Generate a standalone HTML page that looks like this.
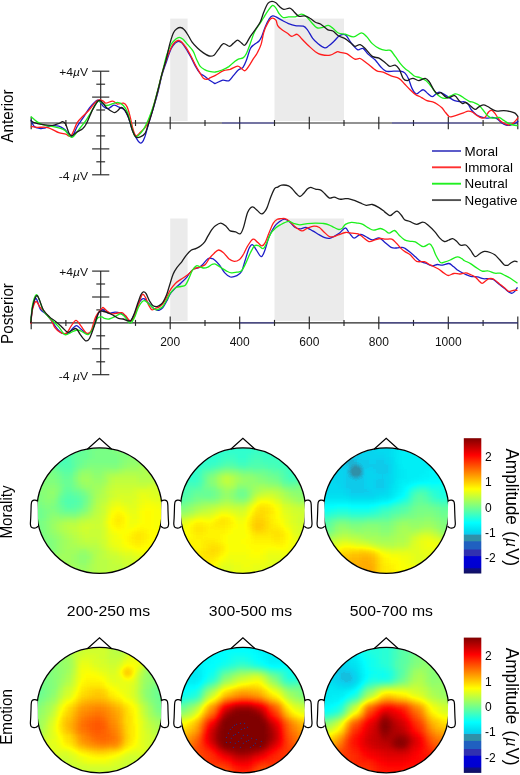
<!DOCTYPE html><html><head><meta charset="utf-8"><style>html,body{margin:0;padding:0;background:#fff;}svg{display:block;will-change:transform;font-family:"Liberation Sans",sans-serif;}</style></head><body>
<svg width="520" height="775" viewBox="0 0 520 775">
<defs><filter id="jet" x="-10%" y="-10%" width="120%" height="120%" color-interpolation-filters="sRGB">
<feGaussianBlur stdDeviation="2.2"/>
<feComponentTransfer>
<feFuncR type="table" tableValues="0.063 0.063 0.063 0.047 0.000 0.000 0.000 0.000 0.000 0.000 0.000 0.188 0.188 0.188 0.188 0.125 0.125 0.125 0.125 0.157 0.188 0.188 0.188 0.125 0.042 0.016 0.000 0.000 0.000 0.000 0.000 0.050 0.100 0.150 0.200 0.250 0.300 0.350 0.400 0.450 0.500 0.550 0.600 0.650 0.700 0.750 0.800 0.850 0.900 0.950 1.000 1.000 1.000 1.000 1.000 1.000 1.000 1.000 1.000 1.000 1.000 1.000 1.000 1.000 1.000 1.000 1.000 1.000 1.000 1.000 1.000 0.950 0.900 0.851 0.801 0.751 0.701 0.651 0.602 0.552 0.502"/>
<feFuncG type="table" tableValues="0.063 0.063 0.063 0.047 0.000 0.000 0.000 0.000 0.000 0.000 0.000 0.188 0.188 0.188 0.188 0.376 0.376 0.376 0.376 0.471 0.565 0.565 0.565 0.675 0.816 0.855 0.889 0.917 0.945 0.972 1.000 1.000 1.000 1.000 1.000 1.000 1.000 1.000 1.000 1.000 1.000 1.000 1.000 1.000 1.000 1.000 1.000 1.000 1.000 1.000 1.000 0.950 0.900 0.850 0.800 0.750 0.700 0.650 0.600 0.550 0.500 0.450 0.400 0.350 0.300 0.250 0.200 0.150 0.100 0.050 0.000 0.000 0.000 0.000 0.000 0.000 0.000 0.000 0.000 0.000 0.000"/>
<feFuncB type="table" tableValues="0.376 0.421 0.466 0.580 0.818 0.823 0.827 0.832 0.837 0.842 0.847 0.690 0.690 0.690 0.690 0.753 0.753 0.753 0.753 0.706 0.659 0.659 0.659 0.800 0.941 0.941 0.947 0.960 0.973 0.987 1.000 0.950 0.900 0.850 0.800 0.750 0.700 0.650 0.600 0.550 0.500 0.450 0.400 0.350 0.300 0.250 0.200 0.150 0.100 0.050 0.000 0.000 0.000 0.000 0.000 0.000 0.000 0.000 0.000 0.000 0.000 0.000 0.000 0.000 0.000 0.000 0.000 0.000 0.000 0.000 0.000 0.000 0.000 0.000 0.000 0.000 0.000 0.000 0.000 0.000 0.000"/>
</feComponentTransfer></filter><linearGradient id="cbar" x1="0" y1="0" x2="0" y2="1"><stop offset="0.000" stop-color="#800000"/><stop offset="0.125" stop-color="#ff0000"/><stop offset="0.375" stop-color="#ffff00"/><stop offset="0.625" stop-color="#00ffff"/><stop offset="0.680" stop-color="#00e0f0"/><stop offset="0.710" stop-color="#10c8f0"/><stop offset="0.715" stop-color="#3090a8"/><stop offset="0.760" stop-color="#3090a8"/><stop offset="0.765" stop-color="#2060c0"/><stop offset="0.820" stop-color="#2060c0"/><stop offset="0.825" stop-color="#3030b0"/><stop offset="0.870" stop-color="#3030b0"/><stop offset="0.875" stop-color="#0000d8"/><stop offset="0.955" stop-color="#0000d0"/><stop offset="0.965" stop-color="#101080"/><stop offset="1.000" stop-color="#101060"/></linearGradient><clipPath id="c00"><circle cx="99.5" cy="510.6" r="62.7"/></clipPath><clipPath id="c01"><circle cx="242.9" cy="510.6" r="62.7"/></clipPath><clipPath id="c02"><circle cx="386.2" cy="510.6" r="62.7"/></clipPath><radialGradient id="b1"><stop offset="0" stop-color="#404040" stop-opacity="0.85"/><stop offset="0.3" stop-color="#404040" stop-opacity="0.72"/><stop offset="0.6" stop-color="#404040" stop-opacity="0.38"/><stop offset="1" stop-color="#404040" stop-opacity="0"/></radialGradient><clipPath id="c10"><circle cx="99.5" cy="710.1" r="62.7"/></clipPath><radialGradient id="b2"><stop offset="0" stop-color="#b1b1b1" stop-opacity="0.85"/><stop offset="0.3" stop-color="#b1b1b1" stop-opacity="0.72"/><stop offset="0.6" stop-color="#b1b1b1" stop-opacity="0.38"/><stop offset="1" stop-color="#b1b1b1" stop-opacity="0"/></radialGradient><clipPath id="c11"><circle cx="242.9" cy="710.1" r="62.7"/></clipPath><clipPath id="c12"><circle cx="386.2" cy="710.1" r="62.7"/></clipPath><radialGradient id="b3"><stop offset="0" stop-color="#4a4a4a" stop-opacity="0.85"/><stop offset="0.3" stop-color="#4a4a4a" stop-opacity="0.72"/><stop offset="0.6" stop-color="#4a4a4a" stop-opacity="0.38"/><stop offset="1" stop-color="#4a4a4a" stop-opacity="0"/></radialGradient><radialGradient id="b4"><stop offset="0" stop-color="#ffffff" stop-opacity="0.90"/><stop offset="0.3" stop-color="#ffffff" stop-opacity="0.77"/><stop offset="0.6" stop-color="#ffffff" stop-opacity="0.41"/><stop offset="1" stop-color="#ffffff" stop-opacity="0"/></radialGradient><radialGradient id="b5"><stop offset="0" stop-color="#ffffff" stop-opacity="0.90"/><stop offset="0.3" stop-color="#ffffff" stop-opacity="0.77"/><stop offset="0.6" stop-color="#ffffff" stop-opacity="0.41"/><stop offset="1" stop-color="#ffffff" stop-opacity="0"/></radialGradient></defs>
<rect x="170.2" y="18.6" width="17.4" height="102.4" fill="#ebebeb"/>
<rect x="274.5" y="18.6" width="69.5" height="102.4" fill="#ebebeb"/>
<g stroke="#262626" stroke-width="1.15" fill="none">
<line x1="31.2" y1="123.0" x2="517.8" y2="123.0"/>
<line x1="31.2" y1="116.7" x2="31.2" y2="129.3"/>
<line x1="65.9" y1="120.0" x2="65.9" y2="126.0"/>
<line x1="135.5" y1="120.0" x2="135.5" y2="126.0"/>
<line x1="170.2" y1="116.7" x2="170.2" y2="129.3"/>
<line x1="205.0" y1="120.0" x2="205.0" y2="126.0"/>
<line x1="239.7" y1="116.7" x2="239.7" y2="129.3"/>
<line x1="274.5" y1="120.0" x2="274.5" y2="126.0"/>
<line x1="309.3" y1="116.7" x2="309.3" y2="129.3"/>
<line x1="344.0" y1="120.0" x2="344.0" y2="126.0"/>
<line x1="378.8" y1="116.7" x2="378.8" y2="129.3"/>
<line x1="413.5" y1="120.0" x2="413.5" y2="126.0"/>
<line x1="448.3" y1="116.7" x2="448.3" y2="129.3"/>
<line x1="483.1" y1="120.0" x2="483.1" y2="126.0"/>
<line x1="517.8" y1="116.7" x2="517.8" y2="129.3"/>
<line x1="100.7" y1="71.2" x2="100.7" y2="174.8"/>
<line x1="92.1" y1="174.8" x2="109.3" y2="174.8"/>
<line x1="96.3" y1="161.8" x2="105.1" y2="161.8"/>
<line x1="92.1" y1="148.9" x2="109.3" y2="148.9"/>
<line x1="96.3" y1="135.9" x2="105.1" y2="135.9"/>
<line x1="96.3" y1="110.0" x2="105.1" y2="110.0"/>
<line x1="92.1" y1="97.1" x2="109.3" y2="97.1"/>
<line x1="96.3" y1="84.2" x2="105.1" y2="84.2"/>
<line x1="92.1" y1="71.2" x2="109.3" y2="71.2"/>
</g>
<text transform="translate(88,75.7) scale(1.1,1)" font-size="11" text-anchor="end" fill="#111">+4<tspan font-style="italic">µ</tspan>V</text>
<text transform="translate(88,179.8) scale(1.1,1)" font-size="11" text-anchor="end" fill="#111">-4<tspan font-style="italic"> µ</tspan>V</text>
<rect x="170.2" y="218.5" width="17.4" height="102.4" fill="#ebebeb"/>
<rect x="274.5" y="218.5" width="69.5" height="102.4" fill="#ebebeb"/>
<g stroke="#262626" stroke-width="1.15" fill="none">
<line x1="31.2" y1="322.9" x2="517.8" y2="322.9"/>
<line x1="31.2" y1="316.6" x2="31.2" y2="329.2"/>
<line x1="65.9" y1="319.9" x2="65.9" y2="325.9"/>
<line x1="135.5" y1="319.9" x2="135.5" y2="325.9"/>
<line x1="170.2" y1="316.6" x2="170.2" y2="329.2"/>
<line x1="205.0" y1="319.9" x2="205.0" y2="325.9"/>
<line x1="239.7" y1="316.6" x2="239.7" y2="329.2"/>
<line x1="274.5" y1="319.9" x2="274.5" y2="325.9"/>
<line x1="309.3" y1="316.6" x2="309.3" y2="329.2"/>
<line x1="344.0" y1="319.9" x2="344.0" y2="325.9"/>
<line x1="378.8" y1="316.6" x2="378.8" y2="329.2"/>
<line x1="413.5" y1="319.9" x2="413.5" y2="325.9"/>
<line x1="448.3" y1="316.6" x2="448.3" y2="329.2"/>
<line x1="483.1" y1="319.9" x2="483.1" y2="325.9"/>
<line x1="517.8" y1="316.6" x2="517.8" y2="329.2"/>
<line x1="100.7" y1="271.1" x2="100.7" y2="374.7"/>
<line x1="92.1" y1="374.7" x2="109.3" y2="374.7"/>
<line x1="96.3" y1="361.8" x2="105.1" y2="361.8"/>
<line x1="92.1" y1="348.8" x2="109.3" y2="348.8"/>
<line x1="96.3" y1="335.8" x2="105.1" y2="335.8"/>
<line x1="96.3" y1="309.9" x2="105.1" y2="309.9"/>
<line x1="92.1" y1="297.0" x2="109.3" y2="297.0"/>
<line x1="96.3" y1="284.0" x2="105.1" y2="284.0"/>
<line x1="92.1" y1="271.1" x2="109.3" y2="271.1"/>
</g>
<text transform="translate(88,275.6) scale(1.1,1)" font-size="11" text-anchor="end" fill="#111">+4<tspan font-style="italic">µ</tspan>V</text>
<text transform="translate(88,379.7) scale(1.1,1)" font-size="11" text-anchor="end" fill="#111">-4<tspan font-style="italic"> µ</tspan>V</text>
<line x1="222.0" y1="123.0" x2="274.0" y2="123.0" stroke="#2a2ad0" stroke-opacity="0.55" stroke-width="1"/>
<line x1="392.0" y1="123.0" x2="482.0" y2="123.0" stroke="#2a2ad0" stroke-opacity="0.55" stroke-width="1"/>
<line x1="240.0" y1="322.9" x2="274.0" y2="322.9" stroke="#2a2ad0" stroke-opacity="0.55" stroke-width="1"/>
<line x1="380.0" y1="322.9" x2="518.0" y2="322.9" stroke="#2a2ad0" stroke-opacity="0.55" stroke-width="1"/>
<text x="170.2" y="345.6" font-size="12" text-anchor="middle" fill="#111">200</text>
<text x="239.7" y="345.6" font-size="12" text-anchor="middle" fill="#111">400</text>
<text x="309.3" y="345.6" font-size="12" text-anchor="middle" fill="#111">600</text>
<text x="378.8" y="345.6" font-size="12" text-anchor="middle" fill="#111">800</text>
<text x="448.3" y="345.6" font-size="12" text-anchor="middle" fill="#111">1000</text>
<path d="M30.8,119.6C31.4,120.8 32.6,125.0 34.2,126.5C35.8,128.0 38.5,128.2 40.3,128.5C42.1,128.8 43.1,128.4 44.9,128.0C46.7,127.5 48.7,126.1 51.0,125.8C53.3,125.5 56.5,125.6 58.8,126.2C61.1,126.8 62.7,127.9 64.9,129.6C67.1,131.3 69.8,137.0 71.8,136.5C73.8,136.0 75.3,129.7 77.2,126.5C79.1,123.3 81.4,120.4 83.4,117.3C85.5,114.2 87.5,110.7 89.5,108.0C91.5,105.3 94.2,102.5 95.7,101.2C97.2,99.9 97.5,99.5 98.8,100.4C100.1,101.3 101.9,105.1 103.4,106.5C105.0,107.9 106.4,108.8 108.1,108.6C109.8,108.4 112.1,105.5 113.8,105.2C115.5,104.9 117.2,106.4 118.5,106.9C119.8,107.4 120.2,107.4 121.3,108.0C122.3,108.6 123.5,108.7 124.8,110.4C126.0,112.1 127.6,115.1 128.8,118.4C130.1,121.7 131.0,126.5 132.3,130.0C133.7,133.5 135.5,137.0 136.9,139.2C138.3,141.4 139.7,143.4 140.9,143.2C142.2,143.0 143.2,141.3 144.4,138.1C145.7,134.9 147.0,129.0 148.4,124.2C149.8,119.4 151.4,114.4 153.0,109.2C154.6,104.0 156.2,98.7 157.7,93.1C159.2,87.5 160.4,80.7 161.9,75.4C163.4,70.1 165.0,65.9 166.5,61.5C168.0,57.1 169.7,51.9 171.1,48.8C172.5,45.7 173.9,44.4 175.2,43.1C176.4,41.9 177.4,41.3 178.6,41.3C179.8,41.3 180.8,41.9 182.1,43.1C183.3,44.4 184.6,46.5 186.1,48.8C187.6,51.1 189.2,54.0 190.8,56.9C192.4,59.8 193.9,63.4 195.4,66.1C196.9,68.8 198.5,71.4 200.0,73.1C201.5,74.8 203.1,75.1 204.6,76.3C206.1,77.5 207.7,78.9 209.2,80.0C210.7,81.1 212.8,82.3 213.8,82.9C214.8,83.5 213.9,83.9 215.4,83.4C216.9,82.9 220.6,80.5 222.8,80.1C225.0,79.7 227.0,81.6 228.8,80.8C230.6,80.0 232.0,77.2 233.6,75.4C235.2,73.6 236.7,71.3 238.3,70.0C239.9,68.7 241.7,68.9 243.0,67.3C244.3,65.7 245.1,63.7 246.3,60.6C247.5,57.5 249.1,51.2 250.4,48.5C251.8,45.8 252.9,45.6 254.4,44.4C255.9,43.1 257.9,42.4 259.1,41.0C260.3,39.6 260.8,38.6 261.8,36.3C262.8,33.9 264.0,29.8 265.2,26.9C266.4,24.0 268.0,20.6 269.2,18.8C270.4,17.0 271.5,16.2 272.6,15.9C273.7,15.6 274.4,16.1 275.9,16.8C277.4,17.5 279.6,19.1 281.7,20.2C283.8,21.3 286.2,22.7 288.5,23.6C290.8,24.5 292.7,25.2 295.2,25.6C297.7,26.0 301.3,25.5 303.3,26.2C305.3,26.9 305.7,27.6 307.3,29.6C308.9,31.6 310.9,36.0 312.7,38.4C314.5,40.8 316.1,42.1 318.1,43.7C320.1,45.3 323.0,47.4 324.8,47.8C326.6,48.1 327.2,46.9 328.8,45.8C330.4,44.7 332.4,42.7 334.2,41.0C336.0,39.3 337.7,36.7 339.6,35.7C341.5,34.7 343.5,33.8 345.4,34.9C347.3,36.0 348.8,39.8 350.8,42.3C352.8,44.8 355.5,48.7 357.5,49.7C359.5,50.7 361.1,47.6 362.9,48.4C364.7,49.2 366.3,52.5 368.3,54.4C370.3,56.3 373.0,57.8 375.0,59.8C377.0,61.8 378.6,64.6 380.4,66.5C382.2,68.4 383.6,70.4 385.8,71.2C388.0,72.0 391.3,71.2 393.8,71.2C396.3,71.2 398.7,70.9 400.6,71.2C402.5,71.5 403.7,71.8 405.0,73.1C406.3,74.4 407.4,76.3 408.5,78.8C409.6,81.3 410.6,85.6 411.9,88.1C413.1,90.6 414.6,93.2 416.0,93.8C417.4,94.4 418.8,92.2 420.0,91.5C421.2,90.8 422.1,89.4 423.5,89.8C424.9,90.2 426.7,92.6 428.1,93.8C429.5,95.0 430.8,96.7 432.1,96.7C433.4,96.7 434.9,94.6 436.1,93.8C437.4,93.0 438.2,92.0 439.6,92.1C441.0,92.2 442.7,93.5 444.2,94.4C445.7,95.3 447.1,96.2 448.8,97.3C450.5,98.3 452.7,100.0 454.6,100.7C456.5,101.5 458.7,101.6 460.4,101.8C462.1,102.0 463.3,101.5 464.6,101.9C465.9,102.3 467.0,102.9 468.1,104.2C469.2,105.5 470.2,108.3 471.5,110.0C472.8,111.7 474.6,113.4 476.1,114.6C477.7,115.8 479.1,116.3 480.8,116.9C482.5,117.5 484.6,118.0 486.5,118.1C488.4,118.2 490.6,117.4 492.3,117.5C494.0,117.6 495.4,117.7 496.9,118.6C498.4,119.5 500.0,121.6 501.5,122.7C503.0,123.8 504.6,124.6 506.1,125.0C507.6,125.4 509.1,125.3 510.7,125.0C512.2,124.7 514.1,124.0 515.4,123.3C516.6,122.6 517.7,121.4 518.2,121.0" fill="none" stroke="#1c1cc8" stroke-width="1.30" stroke-linejoin="round"/>
<path d="M30.8,126.5C31.9,126.6 34.6,127.2 37.2,127.3C39.8,127.4 43.9,126.9 46.5,127.3C49.1,127.7 50.6,128.7 52.6,129.6C54.6,130.5 56.6,131.9 58.8,132.7C61.0,133.5 63.7,133.7 65.7,134.2C67.8,134.7 69.2,137.7 71.1,135.8C73.0,133.9 75.2,126.0 77.2,122.7C79.2,119.4 81.4,118.0 83.4,115.8C85.5,113.6 87.5,111.9 89.5,109.6C91.5,107.3 94.0,103.5 95.7,101.9C97.4,100.3 98.2,100.1 99.5,100.0C100.8,99.9 102.4,100.7 103.4,101.2C104.5,101.7 104.2,103.2 105.8,103.2C107.3,103.2 110.8,101.0 112.7,101.1C114.6,101.2 115.5,103.7 117.3,104.0C119.1,104.3 122.0,102.7 123.6,103.2C125.2,103.7 126.0,104.8 127.1,106.9C128.2,109.1 129.0,112.4 130.0,116.1C131.0,119.8 131.9,125.5 132.9,128.8C133.9,132.1 134.6,135.1 135.8,135.7C137.1,136.3 138.9,133.6 140.4,132.3C141.9,131.0 143.7,129.4 145.0,127.7C146.3,126.0 147.1,125.2 148.4,121.9C149.7,118.6 151.5,113.0 153.0,108.0C154.5,103.0 156.0,97.6 157.5,92.0C159.0,86.4 160.4,79.7 161.9,74.2C163.4,68.7 165.0,63.6 166.5,59.2C168.0,54.8 169.8,50.5 171.1,47.7C172.4,44.9 173.4,43.7 174.6,42.5C175.8,41.3 176.9,40.6 178.1,40.5C179.2,40.4 180.2,40.7 181.5,41.9C182.8,43.1 184.5,45.4 186.1,47.7C187.7,50.0 189.2,52.9 190.8,55.8C192.4,58.7 193.9,62.1 195.4,65.0C196.9,67.9 198.7,70.9 200.0,73.1C201.3,75.3 202.2,77.2 203.4,78.2C204.6,79.2 205.7,79.5 206.9,79.4C208.1,79.3 209.0,78.4 210.4,77.7C211.8,77.0 213.2,76.6 215.4,75.4C217.6,74.2 221.0,71.7 223.5,70.7C226.0,69.7 227.8,70.0 230.2,69.3C232.5,68.5 235.7,66.3 237.6,66.2C239.5,66.1 240.4,67.8 241.6,68.6C242.8,69.3 243.8,71.2 245.0,70.7C246.2,70.2 247.7,67.8 249.0,65.9C250.3,64.0 251.8,61.3 253.1,59.2C254.4,57.1 255.8,55.7 257.1,53.2C258.4,50.7 260.0,47.9 261.1,44.4C262.2,40.9 262.7,35.9 263.8,32.3C264.9,28.7 266.5,25.2 267.9,22.9C269.2,20.5 270.6,18.6 271.9,18.2C273.2,17.8 274.9,19.0 275.9,20.2C276.9,21.4 276.7,24.0 277.7,25.6C278.7,27.2 280.1,28.4 281.7,29.6C283.3,30.8 285.4,31.9 287.1,33.0C288.8,34.1 290.1,36.1 291.8,36.3C293.5,36.5 295.5,33.8 297.2,34.3C298.9,34.8 300.0,37.1 301.9,39.0C303.8,40.9 306.4,43.7 308.6,45.8C310.9,47.9 313.4,50.3 315.4,51.8C317.4,53.2 318.3,53.9 320.8,54.5C323.3,55.1 327.5,55.7 330.2,55.2C332.9,54.8 335.3,52.3 336.9,51.8C338.5,51.3 338.4,52.1 340.0,52.4C341.6,52.7 344.2,52.6 346.7,53.7C349.2,54.8 352.6,58.3 354.8,59.1C357.1,59.9 358.2,57.8 360.2,58.5C362.2,59.2 364.2,61.2 366.9,63.2C369.6,65.2 373.6,69.1 376.3,70.6C379.0,72.1 380.6,71.3 383.1,72.2C385.6,73.1 388.4,74.8 391.1,75.9C393.8,77.0 396.9,77.2 399.2,78.6C401.4,79.9 402.9,82.2 404.6,84.0C406.3,85.8 407.8,87.5 409.6,89.2C411.4,90.9 413.5,93.1 415.4,94.4C417.3,95.8 419.2,96.2 421.1,97.3C423.0,98.3 425.0,99.9 426.9,100.7C428.8,101.5 431.0,101.3 432.7,101.9C434.4,102.5 435.8,103.2 437.3,104.2C438.8,105.2 440.5,106.4 441.9,107.7C443.2,109.0 444.2,110.9 445.4,112.3C446.5,113.7 447.9,115.5 448.8,116.3C449.8,117.1 449.8,117.1 451.1,116.9C452.5,116.7 454.8,115.9 456.9,115.2C459.0,114.5 461.6,113.6 463.5,112.9C465.4,112.2 466.6,111.2 468.1,111.1C469.6,111.0 471.2,111.5 472.7,112.3C474.2,113.1 475.8,114.8 477.3,115.8C478.8,116.8 480.5,117.9 481.9,118.1C483.2,118.3 484.2,118.0 485.4,116.9C486.5,115.8 487.6,112.8 488.8,111.7C490.0,110.7 491.1,110.1 492.3,110.6C493.5,111.1 494.7,113.1 495.8,114.6C496.9,116.1 497.9,118.3 499.2,119.8C500.5,121.2 502.3,122.4 503.8,123.3C505.3,124.2 506.8,125.0 508.4,125.0C509.9,125.0 511.5,124.5 513.1,123.3C514.7,122.0 517.4,118.5 518.2,117.5" fill="none" stroke="#ff1c1c" stroke-width="1.30" stroke-linejoin="round"/>
<path d="M30.8,116.5C31.9,117.4 35.1,120.5 37.2,121.9C39.3,123.3 41.1,124.3 43.4,125.0C45.7,125.7 48.4,125.7 51.0,126.2C53.6,126.7 56.5,127.1 58.8,127.8C61.1,128.5 62.7,128.8 64.9,130.4C67.1,132.0 69.5,137.4 71.8,137.3C74.1,137.2 76.3,132.6 78.8,129.6C81.2,126.6 84.2,122.9 86.5,119.6C88.8,116.3 90.7,112.7 92.6,109.6C94.5,106.5 96.6,102.4 98.0,101.2C99.4,100.0 99.7,101.6 101.2,102.3C102.7,103.0 104.2,105.5 106.9,105.5C109.6,105.5 114.6,102.3 117.3,102.3C120.0,102.2 121.4,103.5 123.1,105.2C124.8,106.9 126.4,109.3 127.7,112.7C129.0,116.1 129.9,121.6 131.1,125.4C132.2,129.2 133.4,134.0 134.6,135.7C135.8,137.4 136.6,136.8 138.1,135.7C139.6,134.5 142.1,131.5 143.8,128.8C145.5,126.1 146.7,123.8 148.4,119.6C150.1,115.4 151.9,111.1 154.2,103.5C156.4,95.9 159.8,82.0 161.9,74.0C164.0,66.0 165.0,60.8 166.5,55.8C168.0,50.8 169.5,47.0 171.1,44.2C172.7,41.4 174.5,40.1 175.8,39.0C177.2,37.9 178.0,37.3 179.2,37.3C180.3,37.3 181.3,37.9 182.7,39.0C184.0,40.1 185.6,42.2 187.3,44.2C189.0,46.2 191.6,48.6 193.1,51.1C194.6,53.6 195.3,56.7 196.5,59.2C197.7,61.7 198.7,64.4 200.0,66.1C201.3,67.8 203.1,68.7 204.6,69.6C206.1,70.5 207.4,70.9 209.2,71.3C211.0,71.7 213.2,72.2 215.4,72.0C217.6,71.8 219.9,70.9 222.1,70.0C224.3,69.1 226.8,67.9 228.8,66.6C230.8,65.2 232.6,63.1 234.2,61.9C235.8,60.7 236.8,59.9 238.3,59.2C239.8,58.5 241.7,58.8 243.0,57.9C244.3,57.0 245.1,56.3 246.3,53.8C247.5,51.3 249.1,46.7 250.4,43.1C251.8,39.5 252.8,35.5 254.4,32.3C256.0,29.0 258.2,26.1 259.8,23.6C261.4,21.1 262.5,19.6 263.8,17.5C265.1,15.4 266.4,12.8 267.9,10.8C269.4,8.8 271.3,5.9 272.6,5.4C273.9,5.0 274.8,6.8 275.9,8.1C277.0,9.4 277.8,11.9 279.0,13.5C280.2,15.1 281.5,16.9 283.1,17.5C284.7,18.1 286.5,16.9 288.5,16.8C290.5,16.7 293.1,17.2 295.2,16.8C297.3,16.4 299.4,14.2 301.2,14.1C303.0,14.0 304.3,14.8 306.0,16.2C307.7,17.6 309.5,20.3 311.3,22.2C313.1,24.1 314.9,26.7 316.7,27.6C318.5,28.5 320.2,28.0 322.1,27.6C324.0,27.2 326.4,25.2 328.2,25.3C330.0,25.4 331.2,27.0 332.9,28.3C334.6,29.6 336.2,32.0 338.3,33.0C340.4,34.0 342.9,33.6 345.4,34.2C347.9,34.9 350.8,37.1 353.5,36.9C356.2,36.7 359.3,32.9 361.5,32.9C363.7,32.9 365.1,35.1 366.9,36.9C368.7,38.7 370.3,41.7 372.3,43.6C374.3,45.5 376.8,47.3 379.0,48.4C381.2,49.5 383.9,50.1 385.8,50.4C387.7,50.7 388.9,49.4 390.5,50.4C392.1,51.4 393.5,54.2 395.2,56.4C396.9,58.6 398.9,61.7 400.6,63.8C402.3,65.9 404.0,67.7 405.5,69.0C407.0,70.3 408.2,70.7 409.6,71.9C411.1,73.1 412.5,75.0 414.2,76.0C415.9,77.0 418.1,76.9 420.0,77.7C421.9,78.5 423.9,79.1 425.8,80.6C427.7,82.1 429.8,84.8 431.5,86.9C433.2,89.0 434.6,91.6 436.1,93.3C437.7,95.0 439.2,96.4 440.8,97.3C442.4,98.2 443.7,98.7 445.4,98.4C447.1,98.1 449.4,96.4 451.1,95.6C452.8,94.8 454.1,93.8 455.7,93.8C457.2,93.8 458.9,94.8 460.4,95.6C461.9,96.4 463.1,97.5 464.6,98.5C466.1,99.5 467.7,100.6 469.2,101.3C470.7,102.0 472.2,101.9 473.8,102.5C475.4,103.1 476.9,103.5 478.5,104.8C480.1,106.0 481.6,108.2 483.1,110.0C484.6,111.8 486.2,114.5 487.7,115.8C489.2,117.1 490.4,117.8 492.3,118.1C494.2,118.4 497.3,117.1 499.2,117.5C501.1,117.9 502.3,119.4 503.8,120.4C505.3,121.4 506.8,122.5 508.4,123.3C509.9,124.1 511.6,124.6 513.1,125.0C514.7,125.4 516.9,125.5 517.7,125.6" fill="none" stroke="#1cf01c" stroke-width="1.30" stroke-linejoin="round"/>
<path d="M30.8,120.4C31.4,120.8 32.1,122.0 34.2,122.7C36.3,123.4 40.3,124.3 43.4,124.7C46.5,125.1 50.0,125.5 52.6,125.3C55.2,125.1 57.1,124.1 58.8,123.5C60.5,122.9 61.5,121.5 62.6,121.6C63.8,121.7 64.7,122.4 65.7,124.2C66.7,126.0 67.8,130.8 68.8,132.7C69.8,134.6 70.4,135.9 71.8,135.8C73.2,135.7 75.4,133.1 77.2,131.9C79.0,130.7 81.0,130.2 82.6,128.8C84.1,127.4 84.8,126.7 86.5,123.5C88.2,120.3 90.8,113.2 92.6,109.6C94.4,106.0 96.0,103.4 97.2,101.9C98.4,100.4 98.5,100.1 99.5,100.4C100.5,100.7 102.2,102.2 103.4,103.5C104.6,104.8 105.2,106.6 106.9,108.1C108.6,109.6 112.1,112.0 113.8,112.5C115.5,113.0 116.0,111.8 117.3,111.0C118.5,110.2 119.9,107.5 121.3,107.5C122.7,107.5 124.2,109.2 125.4,111.0C126.7,112.8 127.7,115.2 128.8,118.4C130.0,121.6 131.1,126.9 132.3,130.0C133.5,133.1 134.5,135.8 135.8,136.9C137.2,138.1 138.9,137.5 140.4,136.9C141.9,136.3 143.7,135.5 145.0,133.4C146.3,131.3 147.1,128.2 148.4,124.2C149.7,120.2 151.5,114.6 153.0,109.2C154.5,103.8 156.0,97.8 157.5,92.0C159.0,86.2 160.4,79.9 161.9,74.2C163.4,68.5 165.2,63.3 166.5,58.1C167.8,52.9 168.8,47.3 170.0,43.1C171.2,38.9 172.3,35.1 173.5,32.7C174.7,30.3 175.8,29.6 176.9,28.7C178.1,27.8 179.2,27.4 180.4,27.5C181.6,27.6 182.7,28.1 183.8,29.2C185.0,30.2 186.0,31.7 187.3,33.8C188.7,35.9 190.2,39.5 191.9,41.9C193.6,44.3 195.8,46.5 197.7,48.3C199.6,50.1 201.5,51.6 203.4,52.9C205.3,54.2 207.4,55.6 209.2,56.0C211.0,56.4 212.5,56.2 214.0,55.2C215.5,54.2 216.5,51.7 218.1,49.8C219.7,47.9 221.6,44.3 223.5,43.7C225.4,43.1 227.8,46.5 229.5,46.4C231.2,46.3 232.2,44.1 233.6,43.1C234.9,42.1 236.3,40.1 237.6,40.1C238.9,40.1 240.4,42.3 241.6,43.1C242.8,43.9 243.5,46.2 245.0,45.1C246.5,44.0 248.6,39.0 250.4,36.3C252.2,33.6 254.1,31.4 255.8,28.9C257.5,26.4 259.2,24.3 260.5,21.5C261.8,18.7 262.6,15.1 263.8,12.1C265.0,9.1 266.5,5.2 267.9,3.4C269.2,1.6 270.6,1.4 271.9,1.3C273.2,1.2 274.7,1.9 275.9,2.7C277.1,3.5 277.7,5.0 279.0,6.1C280.3,7.2 281.9,9.1 283.7,9.4C285.5,9.7 288.1,7.8 289.8,8.1C291.5,8.4 292.3,10.1 293.8,11.4C295.3,12.8 296.8,15.4 298.6,16.2C300.4,16.9 302.7,15.6 304.6,15.9C306.5,16.2 308.2,17.1 310.0,18.2C311.8,19.2 313.6,21.2 315.4,22.2C317.2,23.2 318.8,23.0 320.8,24.2C322.8,25.4 325.5,28.5 327.5,29.6C329.5,30.7 331.1,30.0 332.9,31.0C334.7,32.0 336.2,34.4 338.3,35.7C340.4,37.0 343.3,37.7 345.4,38.9C347.5,40.1 349.2,41.8 350.8,43.0C352.4,44.2 353.2,46.0 354.8,46.3C356.4,46.6 358.4,44.2 360.2,44.7C362.0,45.2 363.6,47.0 365.6,49.0C367.6,51.0 370.1,54.9 372.3,56.4C374.5,57.9 376.8,57.1 379.0,58.2C381.2,59.3 384.0,61.9 385.8,63.2C387.6,64.5 388.2,66.0 389.8,66.3C391.4,66.6 393.6,64.7 395.2,65.2C396.8,65.7 397.8,67.0 399.2,69.2C400.6,71.4 401.9,76.7 403.3,78.6C404.7,80.5 406.2,80.6 407.3,80.7C408.4,80.8 408.6,79.8 409.6,79.4C410.6,79.0 411.6,78.1 413.1,78.3C414.6,78.5 416.8,80.6 418.8,80.6C420.8,80.6 423.5,78.1 425.2,78.3C426.9,78.5 427.8,79.8 429.2,81.7C430.6,83.6 432.4,87.8 433.8,89.8C435.2,91.8 436.1,93.3 437.3,93.8C438.5,94.3 439.5,92.2 440.8,92.7C442.1,93.2 444.1,95.8 445.4,96.7C446.7,97.6 447.3,98.1 448.8,97.9C450.3,97.7 452.9,95.1 454.6,95.6C456.3,96.1 457.9,99.4 459.2,100.7C460.5,102.0 461.6,103.3 462.7,103.6C463.8,103.9 464.4,102.3 465.5,102.5C466.6,102.7 467.6,103.6 469.2,104.8C470.8,106.0 473.4,109.0 475.0,109.4C476.6,109.8 477.1,107.9 478.5,107.1C479.9,106.3 481.6,104.9 483.1,104.8C484.6,104.7 486.2,105.7 487.7,106.5C489.2,107.3 490.8,108.6 492.3,109.4C493.8,110.2 495.0,110.9 496.9,111.1C498.8,111.3 501.5,110.5 503.8,110.6C506.1,110.7 508.8,111.2 510.7,111.7C512.6,112.2 514.1,112.5 515.4,113.4C516.6,114.3 517.7,116.3 518.2,116.9" fill="none" stroke="#1c1c1c" stroke-width="1.30" stroke-linejoin="round"/>
<path d="M30.8,322.3C31.1,319.9 31.7,311.7 32.6,307.7C33.5,303.7 34.7,298.2 36.0,298.5C37.3,298.8 38.8,306.8 40.3,309.2C41.8,311.6 43.1,311.3 44.9,313.1C46.7,314.9 49.3,317.7 51.1,320.0C52.9,322.3 53.9,324.7 55.7,326.9C57.5,329.1 59.8,332.1 61.8,333.1C63.8,334.1 66.2,333.9 68.0,333.1C69.8,332.3 71.2,329.7 72.6,328.5C74.0,327.3 75.1,325.6 76.5,325.7C77.9,325.8 79.3,327.8 81.1,329.2C82.9,330.6 85.3,333.8 87.2,333.8C89.1,333.8 90.9,332.3 92.6,329.2C94.3,326.1 95.7,318.6 97.2,315.4C98.7,312.2 100.6,310.8 101.8,310.0C103.0,309.2 103.4,310.3 104.6,310.9C105.8,311.4 107.5,313.1 109.2,313.3C110.9,313.5 113.1,312.1 115.0,312.1C116.9,312.1 119.1,312.6 120.8,313.3C122.5,314.0 123.9,314.8 125.4,316.1C126.9,317.4 128.5,321.7 130.0,321.3C131.5,320.9 133.2,316.6 134.6,313.8C135.9,311.0 136.9,307.0 138.1,304.6C139.2,302.2 140.4,300.4 141.5,299.4C142.6,298.4 143.2,298.2 144.4,298.8C145.6,299.4 147.0,301.3 148.4,302.9C149.8,304.4 151.8,307.0 153.1,308.1C154.4,309.2 155.5,309.4 156.5,309.8C157.5,310.2 157.9,310.7 158.9,310.3C159.9,309.9 161.4,309.2 162.7,307.7C164.0,306.2 165.3,303.7 166.6,301.3C167.9,298.9 169.0,295.8 170.5,293.5C172.0,291.2 173.9,289.4 175.6,287.7C177.3,286.0 179.1,284.8 180.8,283.2C182.5,281.6 184.5,279.8 186.0,278.1C187.5,276.4 188.5,274.4 189.8,272.9C191.1,271.4 192.2,269.9 193.7,269.0C195.2,268.1 197.4,268.4 198.9,267.7C200.4,266.9 201.2,266.0 202.7,264.5C204.2,263.0 206.4,259.7 207.9,258.7C209.4,257.7 210.8,258.4 211.8,258.5C212.8,258.6 212.7,258.3 214.0,259.4C215.3,260.4 217.6,262.6 219.4,264.8C221.2,267.1 223.0,270.9 224.8,272.9C226.6,274.9 228.2,276.4 230.2,276.9C232.2,277.3 235.0,276.5 236.9,275.6C238.8,274.7 240.2,274.0 241.6,271.5C242.9,269.0 243.8,264.6 245.0,260.8C246.2,257.0 247.8,251.3 249.0,248.6C250.2,245.9 251.2,244.4 252.4,244.6C253.6,244.8 254.9,248.0 256.4,250.0C257.8,252.0 259.8,256.5 261.1,256.7C262.5,256.9 263.1,254.7 264.5,251.3C265.9,247.9 267.5,240.7 269.2,236.5C270.9,232.3 273.0,228.8 274.6,226.4C276.2,224.0 277.4,223.3 279.0,222.1C280.6,220.9 282.6,219.1 284.4,219.1C286.2,219.1 288.0,220.7 289.8,222.1C291.6,223.5 293.4,226.4 295.2,227.5C297.0,228.6 298.8,228.8 300.6,228.8C302.4,228.8 304.0,227.2 306.0,227.5C308.0,227.8 310.5,229.7 312.7,230.9C314.9,232.1 317.4,233.8 319.4,234.9C321.4,236.0 323.1,237.0 324.8,237.6C326.5,238.2 327.9,238.5 329.5,238.3C331.1,238.1 332.5,237.1 334.2,236.2C335.9,235.3 337.7,234.3 339.6,232.9C341.5,231.5 343.8,227.8 345.4,227.8C347.0,227.9 347.9,231.5 349.4,233.2C350.8,234.9 352.3,237.9 354.1,238.1C355.9,238.3 358.3,234.8 360.2,234.5C362.1,234.2 363.6,235.6 365.6,236.5C367.6,237.4 370.1,239.7 372.3,239.9C374.5,240.1 377.0,237.6 379.0,237.9C381.0,238.2 382.4,240.3 384.4,241.9C386.4,243.5 389.1,246.3 391.1,247.3C393.1,248.3 394.7,248.0 396.5,248.0C398.3,248.0 400.5,247.2 401.9,247.3C403.3,247.4 403.6,247.6 405.0,248.4C406.4,249.2 408.5,250.9 410.2,252.3C411.9,253.7 413.6,255.3 415.3,256.8C417.0,258.3 418.8,260.2 420.5,261.3C422.2,262.4 423.7,262.4 425.6,263.2C427.5,263.9 430.2,265.6 432.1,265.8C434.1,266.0 435.6,264.6 437.3,264.5C439.0,264.4 440.5,265.4 442.4,265.2C444.3,265.0 447.1,263.3 448.9,263.5C450.7,263.7 451.9,265.4 453.4,266.5C454.9,267.6 456.5,269.3 457.9,270.3C459.3,271.3 460.7,271.9 461.8,272.5C462.9,273.1 463.2,273.4 464.6,274.0C466.1,274.6 468.4,275.8 470.5,276.3C472.6,276.8 475.3,276.5 477.4,276.9C479.5,277.3 481.3,278.4 483.2,278.7C485.1,279.0 487.2,278.5 489.0,278.7C490.8,278.9 491.9,278.8 493.7,279.8C495.4,280.8 497.6,282.9 499.5,284.5C501.4,286.1 503.4,287.7 505.3,289.1C507.2,290.6 509.6,292.8 511.1,293.2C512.6,293.6 513.5,292.4 514.6,291.4C515.7,290.4 517.0,288.1 517.5,287.4" fill="none" stroke="#1c1cc8" stroke-width="1.30" stroke-linejoin="round"/>
<path d="M30.8,323.8C31.1,321.4 31.7,312.9 32.6,309.2C33.5,305.5 34.7,301.8 36.0,301.5C37.3,301.2 38.8,305.9 40.3,307.7C41.8,309.5 43.1,310.2 44.9,312.3C46.7,314.4 49.4,317.4 51.1,320.0C52.8,322.6 53.4,325.6 54.9,327.7C56.4,329.8 58.4,331.4 60.3,332.3C62.2,333.2 64.7,334.1 66.5,333.1C68.3,332.1 69.5,328.3 71.1,326.2C72.7,324.1 74.3,320.3 76.0,320.3C77.7,320.3 79.3,324.1 81.1,326.2C82.8,328.3 84.8,332.3 86.5,333.1C88.2,333.9 89.6,333.5 91.1,330.8C92.6,328.1 93.9,320.6 95.7,316.9C97.5,313.2 100.5,310.0 101.8,308.5C103.1,307.0 102.7,307.4 103.5,307.8C104.3,308.2 105.6,309.9 106.9,310.9C108.2,311.9 110.0,313.4 111.5,313.8C113.0,314.2 114.4,313.5 116.1,313.3C117.8,313.1 120.4,312.3 121.9,312.7C123.5,313.1 124.1,314.3 125.4,315.6C126.8,316.9 128.7,320.2 130.0,320.7C131.3,321.2 132.2,320.3 133.4,318.4C134.6,316.5 135.7,312.5 136.9,309.2C138.1,305.9 139.4,301.3 140.4,298.8C141.4,296.3 141.8,294.4 142.7,294.2C143.6,294.0 144.6,296.0 145.6,297.7C146.6,299.4 147.3,302.6 148.4,304.6C149.5,306.6 150.8,309.2 151.9,309.8C153.0,310.4 153.8,308.9 155.0,308.5C156.2,308.1 157.6,307.9 158.9,307.1C160.2,306.3 161.4,305.5 162.7,303.9C164.0,302.3 165.3,299.8 166.6,297.4C167.9,295.0 169.0,292.1 170.5,289.7C172.0,287.3 173.9,284.9 175.6,283.2C177.3,281.5 179.1,280.6 180.8,279.4C182.5,278.2 184.5,277.2 186.0,276.1C187.5,275.0 188.5,274.1 189.8,272.9C191.1,271.7 192.4,269.9 193.7,269.0C195.0,268.1 196.3,268.1 197.6,267.7C198.9,267.3 200.2,267.0 201.5,266.5C202.8,266.0 204.0,265.8 205.3,264.5C206.6,263.2 207.8,260.6 209.2,258.7C210.6,256.8 212.4,254.8 214.0,253.4C215.6,252.0 217.1,250.1 218.7,250.0C220.3,249.9 221.8,251.2 223.5,252.7C225.2,254.1 227.0,257.2 228.8,258.7C230.6,260.1 232.4,261.3 234.2,261.4C236.0,261.5 238.0,260.6 239.6,259.4C241.2,258.2 242.2,256.2 243.6,254.0C244.9,251.8 246.1,248.4 247.7,245.9C249.3,243.4 251.4,239.8 253.1,239.2C254.8,238.6 256.4,241.5 257.8,242.6C259.2,243.7 260.6,245.9 261.8,245.9C263.0,245.9 264.0,244.8 265.2,242.6C266.4,240.4 267.8,235.8 269.2,232.5C270.6,229.2 271.9,225.3 273.3,223.1C274.7,220.9 276.0,220.0 277.3,219.3C278.6,218.6 279.7,218.8 281.0,218.7C282.3,218.6 283.6,218.2 285.1,218.7C286.6,219.1 288.1,220.1 289.8,221.4C291.5,222.8 293.2,225.2 295.2,226.8C297.2,228.4 299.9,230.7 301.9,230.9C303.9,231.1 305.3,229.0 307.3,228.2C309.3,227.4 312.0,226.2 314.0,226.1C316.0,226.0 317.8,226.6 319.4,227.5C321.0,228.4 321.9,230.1 323.5,231.5C325.1,232.9 327.2,235.3 328.8,236.2C330.4,237.1 331.3,237.1 332.9,236.9C334.5,236.7 336.2,235.6 338.3,234.9C340.4,234.2 343.1,232.8 345.4,232.5C347.7,232.2 350.0,233.0 352.1,233.2C354.2,233.4 356.4,233.1 358.2,233.8C360.0,234.5 361.1,235.9 362.9,237.2C364.7,238.5 366.9,241.1 368.9,241.6C370.9,242.1 373.1,240.4 375.0,239.9C376.9,239.4 378.6,238.6 380.4,238.5C382.2,238.4 383.9,239.1 385.8,239.2C387.7,239.3 390.0,238.5 391.8,239.2C393.6,239.9 394.9,241.7 396.5,243.3C398.1,244.9 399.8,247.2 401.2,248.6C402.6,250.0 403.5,250.6 405.0,251.6C406.5,252.6 408.3,253.2 410.2,254.8C412.1,256.4 414.2,260.2 416.6,261.3C419.0,262.4 422.0,261.1 424.4,261.7C426.8,262.3 428.4,264.0 430.8,265.2C433.2,266.4 436.4,267.7 438.5,269.0C440.6,270.3 442.1,271.8 443.7,272.9C445.3,274.0 446.5,275.4 448.2,275.5C449.9,275.6 452.0,273.8 454.0,273.5C456.0,273.2 458.0,274.1 460.0,274.0C462.0,273.9 464.1,272.7 465.8,272.8C467.6,272.9 468.9,273.9 470.5,274.6C472.1,275.3 473.8,275.9 475.1,276.9C476.5,277.9 477.4,279.3 478.6,280.4C479.8,281.5 480.9,283.2 482.1,283.3C483.3,283.4 484.5,281.8 485.6,281.0C486.8,280.2 487.6,279.0 489.0,278.7C490.4,278.4 491.9,278.3 493.7,279.2C495.4,280.1 497.6,282.3 499.5,283.9C501.4,285.4 503.8,287.2 505.3,288.5C506.9,289.8 507.5,291.1 508.8,291.4C510.1,291.7 511.9,290.5 513.4,290.3C514.9,290.1 516.8,290.3 517.5,290.3" fill="none" stroke="#ff1c1c" stroke-width="1.30" stroke-linejoin="round"/>
<path d="M30.8,321.5C31.1,318.7 31.7,309.0 32.6,304.6C33.5,300.2 35.0,295.9 36.0,294.9C37.0,293.9 37.6,295.9 38.8,298.5C40.0,301.1 41.9,307.9 43.4,310.8C44.9,313.8 46.5,314.5 48.0,316.2C49.5,317.9 50.8,319.0 52.6,320.8C54.4,322.6 56.8,324.6 58.8,326.9C60.8,329.2 62.9,333.7 64.9,334.6C67.0,335.5 69.0,333.1 71.1,332.3C73.1,331.5 75.4,330.1 77.2,330.0C79.0,329.9 80.0,330.7 81.8,331.5C83.6,332.3 86.2,335.0 88.0,334.6C89.8,334.2 91.1,331.9 92.6,329.2C94.1,326.5 95.7,320.6 97.2,318.5C98.7,316.4 100.6,316.9 101.8,316.9C103.0,316.9 103.4,318.0 104.6,318.4C105.8,318.8 107.5,319.3 109.2,319.0C110.9,318.7 113.2,317.6 115.0,316.7C116.8,315.8 118.7,313.9 120.2,313.8C121.7,313.7 122.6,314.6 124.2,316.1C125.8,317.7 128.3,322.9 130.0,323.1C131.7,323.3 133.2,319.8 134.6,317.3C135.9,314.8 136.9,310.6 138.1,308.1C139.2,305.6 140.4,303.6 141.5,302.3C142.6,301.1 143.2,300.4 144.4,300.6C145.6,300.8 147.0,302.1 148.4,303.4C149.8,304.6 151.8,307.0 153.1,308.1C154.4,309.2 155.5,309.7 156.5,309.8C157.5,309.9 157.9,309.6 158.9,309.0C159.9,308.4 161.4,308.0 162.7,306.5C164.0,305.0 165.3,302.3 166.6,300.0C167.9,297.7 169.0,294.9 170.5,292.9C172.0,290.8 173.9,288.8 175.6,287.7C177.3,286.6 179.2,286.9 180.8,286.5C182.4,286.1 184.0,286.4 185.3,285.2C186.6,284.0 187.3,281.9 188.5,279.4C189.7,276.9 191.1,272.6 192.4,270.3C193.7,268.0 195.1,266.4 196.3,265.8C197.5,265.2 198.3,266.1 199.5,266.5C200.7,266.9 202.0,267.9 203.4,268.0C204.8,268.1 206.5,267.7 207.9,267.1C209.3,266.5 210.6,265.0 211.8,264.5C213.1,264.0 213.9,263.6 215.4,264.1C216.9,264.6 219.0,266.4 220.8,267.5C222.6,268.6 224.4,269.9 226.2,270.8C228.0,271.7 229.7,272.7 231.5,272.9C233.3,273.1 235.2,272.5 236.9,272.2C238.6,271.9 240.1,272.3 241.6,270.8C243.1,269.3 244.2,266.4 245.7,263.4C247.2,260.4 248.9,255.6 250.4,252.7C251.9,249.8 253.1,247.1 254.4,245.9C255.8,244.7 257.0,245.2 258.5,245.7C260.0,246.1 261.9,249.0 263.2,248.6C264.5,248.2 265.3,245.8 266.5,243.3C267.7,240.8 269.0,236.4 270.6,233.8C272.2,231.2 274.3,229.3 275.9,227.8C277.5,226.3 278.3,225.9 280.4,224.8C282.5,223.7 286.3,221.6 288.5,221.4C290.7,221.2 291.9,222.9 293.8,223.5C295.7,224.1 297.6,224.8 299.9,224.8C302.1,224.8 304.7,224.0 307.3,223.7C309.9,223.4 312.7,223.2 315.4,223.2C318.1,223.2 321.3,223.2 323.5,223.5C325.7,223.8 327.0,224.1 328.8,224.8C330.6,225.5 332.5,226.7 334.2,227.5C335.9,228.3 337.5,229.4 338.9,229.5C340.2,229.6 341.2,229.0 342.3,228.2C343.4,227.3 343.9,225.4 345.4,224.4C346.9,223.4 349.4,222.6 351.4,222.4C353.4,222.2 355.6,222.8 357.5,223.1C359.4,223.4 361.1,223.6 362.9,224.4C364.7,225.2 366.5,226.9 368.3,227.8C370.1,228.8 371.6,230.0 373.6,230.1C375.6,230.2 378.5,228.4 380.4,228.5C382.3,228.6 383.7,229.7 385.1,230.5C386.6,231.3 387.5,233.2 389.1,233.2C390.7,233.2 392.8,230.2 394.5,230.5C396.2,230.8 397.5,233.6 399.2,235.2C400.9,236.8 402.8,238.9 404.6,239.9C406.4,240.9 408.4,241.0 410.2,241.3C412.0,241.6 413.1,241.0 415.3,241.9C417.5,242.8 420.7,246.4 423.1,246.7C425.5,247.0 427.9,243.7 429.5,243.9C431.1,244.1 431.6,245.8 432.7,247.7C433.8,249.6 434.7,253.0 436.0,255.5C437.3,258.0 439.0,261.5 440.5,262.6C442.0,263.7 443.4,262.3 445.0,261.9C446.6,261.5 448.1,260.9 450.2,260.0C452.2,259.1 455.4,257.0 457.3,256.8C459.2,256.6 460.6,258.1 461.8,258.7C463.0,259.3 463.2,259.9 464.6,260.7C466.1,261.5 468.6,262.5 470.5,263.6C472.4,264.8 474.4,266.4 476.3,267.6C478.2,268.9 480.2,270.6 482.1,271.1C484.0,271.7 485.8,270.5 487.9,270.9C490.0,271.2 492.8,272.8 494.8,273.2C496.8,273.6 498.4,272.8 500.1,273.2C501.9,273.6 503.5,274.8 505.3,275.7C507.1,276.6 509.1,277.4 511.1,278.7C513.1,280.0 516.4,282.5 517.5,283.3" fill="none" stroke="#1cf01c" stroke-width="1.30" stroke-linejoin="round"/>
<path d="M30.8,323.1C31.1,320.4 31.7,311.4 32.6,306.9C33.6,302.3 35.4,296.9 36.5,295.8C37.6,294.7 38.4,297.6 39.5,300.0C40.6,302.4 41.7,307.2 43.4,310.0C45.1,312.8 47.5,315.0 49.5,316.9C51.5,318.8 53.7,319.8 55.7,321.5C57.8,323.2 59.8,325.1 61.8,326.9C63.8,328.7 65.7,332.0 68.0,332.3C70.3,332.6 73.7,328.1 75.7,328.5C77.8,328.9 78.6,332.6 80.3,334.6C82.0,336.7 84.2,340.2 85.7,340.8C87.2,341.4 88.1,340.9 89.5,338.5C90.9,336.1 92.7,330.6 94.2,326.2C95.8,321.8 97.3,314.8 98.8,312.3C100.3,309.9 101.7,311.3 103.4,311.5C105.1,311.7 107.5,312.6 109.2,313.3C110.9,314.0 112.2,314.8 113.8,315.6C115.3,316.5 117.0,317.8 118.5,318.4C120.0,319.0 121.6,318.6 123.1,319.0C124.6,319.4 126.4,320.5 127.7,320.7C129.0,320.9 129.9,321.5 131.1,320.2C132.2,318.9 133.4,315.7 134.6,312.7C135.8,309.7 137.0,305.3 138.1,302.3C139.2,299.3 140.0,296.5 140.9,294.8C141.8,293.1 142.4,292.1 143.3,291.9C144.2,291.7 145.1,292.1 146.1,293.6C147.1,295.1 148.4,299.1 149.6,301.1C150.8,303.1 151.9,304.9 153.1,305.8C154.2,306.7 155.5,306.7 156.5,306.7C157.5,306.7 157.9,306.5 158.9,305.8C159.9,305.1 161.4,304.4 162.7,302.6C164.0,300.8 165.4,297.8 166.6,294.8C167.8,291.8 168.7,287.9 169.8,284.5C170.9,281.1 171.9,277.0 173.1,274.2C174.3,271.4 175.4,269.8 176.9,267.7C178.4,265.6 180.5,263.4 182.1,261.3C183.7,259.2 185.1,256.6 186.6,254.8C188.1,253.0 189.5,251.4 191.1,250.3C192.7,249.2 194.7,249.2 196.3,248.4C197.9,247.7 199.4,246.9 200.8,245.8C202.2,244.7 203.5,243.5 204.7,241.9C205.9,240.3 206.7,238.1 207.9,236.1C209.1,234.1 210.6,231.4 211.8,229.7C213.1,228.0 213.9,226.9 215.4,225.8C216.9,224.7 219.0,223.0 220.8,223.1C222.6,223.2 224.6,225.1 226.2,226.4C227.8,227.7 228.6,230.0 230.2,230.9C231.8,231.8 233.9,231.3 235.6,231.8C237.3,232.3 239.0,234.6 240.3,233.8C241.6,233.0 242.4,230.7 243.6,227.1C244.8,223.5 246.2,215.7 247.7,212.3C249.2,208.9 250.8,207.2 252.4,206.9C254.0,206.6 255.5,209.1 257.1,210.3C258.7,211.5 260.2,214.1 261.8,213.9C263.4,213.7 265.0,211.6 266.5,208.9C268.0,206.2 269.2,200.9 270.6,197.5C272.0,194.1 273.4,190.4 274.6,188.7C275.8,187.0 276.5,187.7 277.7,187.1C278.9,186.5 279.9,185.3 281.7,185.1C283.5,184.9 286.7,185.1 288.5,185.8C290.3,186.5 291.2,187.8 292.5,189.1C293.8,190.4 295.3,192.6 296.5,193.8C297.7,195.0 298.8,196.5 299.9,196.5C301.0,196.5 302.1,195.0 303.3,193.8C304.5,192.6 306.1,190.2 307.3,189.1C308.5,188.0 309.4,187.4 310.7,187.4C312.0,187.4 313.7,188.7 315.4,189.1C317.1,189.5 319.2,189.3 320.8,190.1C322.4,190.9 323.4,192.5 324.8,193.8C326.2,195.1 327.9,197.5 329.5,198.1C331.1,198.7 332.5,197.0 334.2,197.2C335.9,197.4 338.0,198.9 339.6,199.2C341.2,199.5 342.6,198.9 344.0,198.8C345.4,198.7 346.5,198.4 348.1,198.6C349.7,198.8 351.5,199.5 353.5,200.2C355.5,200.9 358.1,202.1 360.2,202.9C362.3,203.8 364.2,205.0 366.2,205.3C368.2,205.6 370.2,204.1 372.3,204.5C374.4,204.9 377.0,206.4 379.0,207.6C381.0,208.8 382.6,210.2 384.4,211.6C386.2,212.9 388.2,215.5 389.8,215.7C391.4,215.9 392.6,213.8 393.8,213.0C395.0,212.2 396.0,210.9 397.2,211.2C398.4,211.5 400.0,213.6 401.2,215.0C402.4,216.4 403.1,218.6 404.6,219.7C406.1,220.8 408.2,220.9 410.2,221.7C412.2,222.5 414.5,224.2 416.6,224.3C418.8,224.4 421.2,222.0 423.1,222.2C425.0,222.3 426.3,223.6 428.2,225.2C430.1,226.8 432.8,229.4 434.7,231.6C436.6,233.8 438.2,236.4 439.8,238.1C441.4,239.8 442.9,241.2 444.4,241.5C445.9,241.8 447.5,240.5 448.9,240.0C450.3,239.5 451.4,238.5 452.7,238.7C454.0,238.9 455.3,240.2 456.6,241.3C457.9,242.4 459.0,244.6 460.5,245.2C462.0,245.8 464.1,244.2 465.8,245.0C467.5,245.8 468.9,248.3 470.5,250.2C472.1,252.1 473.6,256.0 475.1,256.6C476.6,257.2 478.1,254.6 479.7,253.7C481.2,252.8 482.6,251.6 484.4,251.4C486.1,251.2 488.5,251.9 490.2,252.5C491.9,253.1 493.2,253.6 494.8,254.8C496.4,256.0 497.9,257.9 499.5,259.5C501.1,261.1 502.8,263.7 504.1,264.7C505.5,265.7 506.4,265.6 507.6,265.3C508.8,265.0 509.9,263.4 511.1,262.7C512.3,262.0 513.5,261.3 514.6,261.2C515.7,261.1 517.0,261.7 517.5,261.8" fill="none" stroke="#1c1c1c" stroke-width="1.30" stroke-linejoin="round"/>
<text transform="translate(12.6,116.0) rotate(-90) scale(1,1.06)" font-size="15.2" text-anchor="middle" fill="#000">Anterior</text>
<text transform="translate(12.6,313.5) rotate(-90) scale(1,1.06)" font-size="15.2" text-anchor="middle" fill="#000">Posterior</text>
<text transform="translate(12.2,512.0) rotate(-90) scale(1,1.06)" font-size="15.2" text-anchor="middle" fill="#000">Morality</text>
<text transform="translate(12.2,717.0) rotate(-90) scale(1,1.06)" font-size="15.2" text-anchor="middle" fill="#000">Emotion</text>
<line x1="432" y1="151.0" x2="461" y2="151.0" stroke="#5454c8" stroke-width="1.9"/>
<text x="464.5" y="155.7" font-size="13.4" fill="#000">Moral</text>
<line x1="432" y1="167.3" x2="461" y2="167.3" stroke="#ff3030" stroke-width="1.9"/>
<text x="464.5" y="172.0" font-size="13.4" fill="#000">Immoral</text>
<line x1="432" y1="183.7" x2="461" y2="183.7" stroke="#20f020" stroke-width="1.9"/>
<text x="464.5" y="188.4" font-size="13.4" fill="#000">Neutral</text>
<line x1="432" y1="200.1" x2="461" y2="200.1" stroke="#505050" stroke-width="1.9"/>
<text x="464.5" y="204.8" font-size="13.4" fill="#000">Negative</text>
<g clip-path="url(#c00)"><g filter="url(#jet)"><rect x="28.8" y="439.9" width="141.4" height="141.4" fill="#878787"/><g transform="translate(28,439) scale(5)"><path fill="#727272" d="M5 2h2v1h-2zM5 3h3v1h-3zM6 4h2v1h-2z"/><path fill="#747474" d="M6 1h1v1h-1zM7 2h1v1h-1zM4 3h1v1h-1zM8 3h1v1h-1zM5 4h1v1h-1zM8 4h1v1h-1zM6 5h3v1h-3zM8 11h1v1h-1zM7 12h3v1h-3zM8 13h1v1h-1z"/><path fill="#767676" d="M7 1h1v1h-1zM8 2h1v1h-1zM7 6h2v1h-2zM7 11h1v1h-1zM9 11h1v1h-1zM10 12h1v1h-1zM7 13h1v1h-1zM9 13h1v1h-1z"/><path fill="#787878" d="M8 0h3v1h-3zM8 1h3v1h-3zM9 2h2v1h-2zM9 3h1v1h-1zM4 4h1v1h-1zM9 4h1v1h-1zM5 5h1v1h-1zM9 5h1v1h-1zM6 6h1v1h-1zM7 7h1v1h-1zM7 10h2v1h-2zM10 11h1v1h-1zM6 12h1v1h-1zM10 13h1v1h-1z"/><path fill="#7a7a7a" d="M11 0h1v1h-1zM11 1h1v1h-1zM11 2h1v1h-1zM10 3h2v1h-2zM10 4h1v1h-1zM8 7h1v1h-1zM7 8h2v1h-2zM7 9h2v1h-2zM9 10h1v1h-1zM6 11h1v1h-1zM6 13h1v1h-1zM7 14h3v1h-3z"/><path fill="#7c7c7c" d="M12 0h2v1h-2zM12 1h2v1h-2zM12 2h1v1h-1zM12 3h1v1h-1zM11 4h1v1h-1zM10 5h1v1h-1zM5 6h1v1h-1zM9 6h1v1h-1zM6 7h1v1h-1zM6 8h1v1h-1zM10 10h1v1h-1zM11 11h1v1h-1zM11 12h1v1h-1zM0 13h2v1h-2zM0 14h3v1h-3zM6 14h1v1h-1zM0 15h3v1h-3zM0 16h2v1h-2zM0 17h2v1h-2zM0 18h2v1h-2zM0 19h2v1h-2zM0 20h1v1h-1z"/><path fill="#7e7e7e" d="M14 0h3v1h-3zM14 1h3v1h-3zM13 2h4v1h-4zM13 3h5v1h-5zM3 4h1v1h-1zM12 4h6v1h-6zM4 5h1v1h-1zM11 5h1v1h-1zM4 6h1v1h-1zM5 7h1v1h-1zM6 9h1v1h-1zM9 9h1v1h-1zM6 10h1v1h-1zM0 12h2v1h-2zM2 13h1v1h-1zM5 13h1v1h-1zM11 13h1v1h-1zM3 14h1v1h-1zM10 14h1v1h-1zM3 15h1v1h-1zM2 16h1v1h-1zM2 17h1v1h-1zM2 18h1v1h-1zM2 19h1v1h-1zM1 20h2v1h-2zM1 21h1v1h-1z"/><path fill="#808080" d="M17 0h3v1h-3zM17 1h4v1h-4zM17 2h3v1h-3zM18 3h2v1h-2zM18 4h1v1h-1zM2 5h2v1h-2zM12 5h6v1h-6zM1 6h3v1h-3zM1 7h4v1h-4zM9 7h1v1h-1zM0 8h6v1h-6zM9 8h1v1h-1zM0 9h3v1h-3zM0 10h2v1h-2zM11 10h1v1h-1zM0 11h3v1h-3zM2 12h1v1h-1zM5 12h1v1h-1zM3 13h2v1h-2zM4 14h2v1h-2zM3 16h1v1h-1zM3 17h1v1h-1zM3 18h1v1h-1zM3 19h1v1h-1zM3 20h2v1h-2zM2 21h3v1h-3zM2 22h3v1h-3zM2 23h2v1h-2z"/><path fill="#828282" d="M21 1h1v1h-1zM20 2h1v1h-1zM20 3h1v1h-1zM19 4h1v1h-1zM18 5h1v1h-1zM10 6h1v1h-1zM13 6h2v1h-2zM3 9h3v1h-3zM10 9h1v1h-1zM2 10h2v1h-2zM3 11h1v1h-1zM5 11h1v1h-1zM12 11h1v1h-1zM3 12h2v1h-2zM12 12h1v1h-1zM11 14h1v1h-1zM4 15h1v1h-1zM6 15h4v1h-4zM4 19h1v1h-1zM5 20h1v1h-1zM5 21h1v1h-1zM5 22h1v1h-1zM4 23h1v1h-1zM3 24h1v1h-1z"/><path fill="#848484" d="M21 2h3v1h-3zM21 3h3v1h-3zM20 4h3v1h-3zM19 5h1v1h-1zM11 6h2v1h-2zM15 6h1v1h-1zM13 7h2v1h-2zM4 10h2v1h-2zM12 10h1v1h-1zM4 11h1v1h-1zM12 13h1v1h-1zM5 15h1v1h-1zM4 16h1v1h-1zM4 17h1v1h-1zM4 18h1v1h-1zM5 19h1v1h-1zM10 23h2v1h-2zM10 24h2v1h-2z"/><path fill="#868686" d="M24 3h1v1h-1zM23 4h1v1h-1zM20 5h2v1h-2zM16 6h2v1h-2zM10 7h1v1h-1zM12 7h1v1h-1zM10 8h1v1h-1zM13 8h2v1h-2zM11 9h2v1h-2zM10 15h1v1h-1zM5 16h1v1h-1zM5 18h1v1h-1zM6 19h1v1h-1zM6 20h1v1h-1zM6 21h1v1h-1zM6 22h1v1h-1zM10 22h2v1h-2zM5 23h1v1h-1zM9 23h1v1h-1zM12 23h1v1h-1zM4 24h1v1h-1zM9 24h1v1h-1zM10 25h2v1h-2z"/><path fill="#888888" d="M24 4h1v1h-1zM22 5h1v1h-1zM18 6h1v1h-1zM11 7h1v1h-1zM15 7h1v1h-1zM11 8h2v1h-2zM15 8h1v1h-1zM13 9h2v1h-2zM13 10h1v1h-1zM13 11h1v1h-1zM12 14h1v1h-1zM6 16h1v1h-1zM5 17h1v1h-1zM7 20h1v1h-1zM7 21h1v1h-1zM7 22h3v1h-3zM6 23h3v1h-3zM5 24h4v1h-4zM12 24h1v1h-1zM4 25h6v1h-6zM5 26h7v1h-7zM7 27h4v1h-4zM9 28h2v1h-2z"/><path fill="#8a8a8a" d="M25 4h1v1h-1zM23 5h2v1h-2zM19 6h4v1h-4zM14 10h1v1h-1zM13 12h1v1h-1zM11 15h1v1h-1zM7 16h1v1h-1zM6 18h1v1h-1zM7 19h1v1h-1zM8 20h1v1h-1zM8 21h2v1h-2zM12 22h1v1h-1zM12 25h1v1h-1zM12 26h1v1h-1zM11 27h1v1h-1zM11 28h1v1h-1z"/><path fill="#8c8c8c" d="M25 5h2v1h-2zM23 6h4v1h-4zM16 7h1v1h-1zM22 7h5v1h-5zM15 9h1v1h-1zM14 11h1v1h-1zM13 13h1v1h-1zM12 15h1v1h-1zM8 16h2v1h-2zM6 17h1v1h-1zM7 18h1v1h-1zM8 19h1v1h-1zM9 20h1v1h-1zM10 21h2v1h-2zM13 22h1v1h-1zM13 23h1v1h-1zM13 24h1v1h-1zM13 25h1v1h-1zM13 26h1v1h-1zM12 27h1v1h-1zM12 28h1v1h-1z"/><path fill="#8e8e8e" d="M17 7h5v1h-5zM27 7h1v1h-1zM16 8h1v1h-1zM22 8h3v1h-3zM15 10h1v1h-1zM15 11h1v1h-1zM14 12h1v1h-1zM13 14h1v1h-1zM7 17h1v1h-1zM8 18h1v1h-1zM9 19h1v1h-1zM10 20h1v1h-1zM12 21h2v1h-2zM14 22h1v1h-1zM14 23h1v1h-1zM14 24h2v1h-2zM14 25h2v1h-2zM14 26h2v1h-2zM13 27h3v1h-3zM13 28h3v1h-3z"/><path fill="#909090" d="M17 8h5v1h-5zM25 8h2v1h-2zM16 9h1v1h-1zM15 12h1v1h-1zM14 13h1v1h-1zM14 14h1v1h-1zM13 15h1v1h-1zM10 16h2v1h-2zM8 17h2v1h-2zM9 18h1v1h-1zM10 19h1v1h-1zM11 20h3v1h-3zM14 21h1v1h-1zM15 22h1v1h-1zM15 23h1v1h-1zM16 24h1v1h-1zM16 25h3v1h-3zM16 26h4v1h-4zM16 27h5v1h-5zM16 28h4v1h-4z"/><path fill="#929292" d="M27 8h1v1h-1zM17 9h7v1h-7zM16 10h1v1h-1zM16 11h1v1h-1zM14 15h1v1h-1zM12 16h3v1h-3zM10 17h1v1h-1zM13 17h1v1h-1zM10 18h1v1h-1zM12 18h3v1h-3zM11 19h4v1h-4zM14 20h1v1h-1zM16 23h2v1h-2zM17 24h2v1h-2zM19 25h1v1h-1zM20 26h1v1h-1zM21 27h1v1h-1z"/><path fill="#949494" d="M24 9h5v1h-5zM17 10h4v1h-4zM17 11h1v1h-1zM15 13h1v1h-1zM15 14h1v1h-1zM11 17h2v1h-2zM14 17h1v1h-1zM11 18h1v1h-1zM15 20h1v1h-1zM15 21h1v1h-1zM16 22h1v1h-1zM18 23h1v1h-1zM19 24h2v1h-2zM20 25h3v1h-3zM21 26h2v1h-2z"/><path fill="#969696" d="M21 10h1v1h-1zM25 10h4v1h-4zM18 11h4v1h-4zM26 11h3v1h-3zM16 12h1v1h-1zM19 12h2v1h-2zM15 15h1v1h-1zM15 18h1v1h-1zM15 19h1v1h-1zM17 22h1v1h-1zM19 23h2v1h-2zM21 24h3v1h-3zM23 25h2v1h-2z"/><path fill="#989898" d="M22 10h3v1h-3zM24 11h2v1h-2zM17 12h2v1h-2zM21 12h1v1h-1zM27 12h2v1h-2zM16 13h1v1h-1zM20 13h2v1h-2zM15 16h1v1h-1zM15 17h1v1h-1zM16 21h1v1h-1zM18 22h1v1h-1zM21 23h2v1h-2z"/><path fill="#9a9a9a" d="M22 11h2v1h-2zM22 12h1v1h-1zM25 12h2v1h-2zM19 13h1v1h-1zM20 14h2v1h-2zM21 15h1v1h-1zM16 19h1v1h-1zM16 20h1v1h-1zM17 21h1v1h-1zM19 22h2v1h-2zM23 23h1v1h-1zM24 24h1v1h-1z"/><path fill="#9c9c9c" d="M23 12h2v1h-2zM17 13h2v1h-2zM22 13h1v1h-1zM26 13h3v1h-3zM16 14h1v1h-1zM19 14h1v1h-1zM20 15h1v1h-1zM20 16h2v1h-2zM20 17h1v1h-1zM16 18h1v1h-1zM17 19h1v1h-1zM17 20h2v1h-2zM18 21h1v1h-1zM21 22h1v1h-1zM25 24h1v1h-1z"/><path fill="#9e9e9e" d="M23 13h3v1h-3zM22 14h1v1h-1zM25 14h4v1h-4zM16 15h1v1h-1zM22 15h1v1h-1zM25 15h4v1h-4zM22 16h1v1h-1zM25 16h4v1h-4zM16 17h1v1h-1zM21 17h1v1h-1zM25 17h4v1h-4zM17 18h1v1h-1zM19 18h1v1h-1zM26 18h3v1h-3zM18 19h1v1h-1zM26 19h3v1h-3zM26 20h2v1h-2zM19 21h1v1h-1zM25 21h3v1h-3zM22 22h5v1h-5zM24 23h2v1h-2z"/><path fill="#a0a0a0" d="M17 14h2v1h-2zM23 14h2v1h-2zM19 15h1v1h-1zM23 15h2v1h-2zM16 16h1v1h-1zM19 16h1v1h-1zM23 16h2v1h-2zM19 17h1v1h-1zM22 17h3v1h-3zM18 18h1v1h-1zM20 18h1v1h-1zM24 18h2v1h-2zM19 19h1v1h-1zM24 19h2v1h-2zM19 20h1v1h-1zM24 20h2v1h-2zM20 21h1v1h-1zM23 21h2v1h-2z"/><path fill="#a2a2a2" d="M17 15h1v1h-1zM17 17h2v1h-2zM21 18h1v1h-1zM23 18h1v1h-1zM20 19h1v1h-1zM20 20h1v1h-1zM23 20h1v1h-1zM21 21h2v1h-2z"/><path fill="#a4a4a4" d="M18 15h1v1h-1zM17 16h2v1h-2zM22 18h1v1h-1zM23 19h1v1h-1zM21 20h2v1h-2z"/><path fill="#a6a6a6" d="M21 19h2v1h-2z"/></g></g></g>
<circle cx="99.5" cy="510.6" r="62.7" fill="none" stroke="#000" stroke-width="1.3"/><polyline points="87.3,449.3 99.5,438.2 111.7,449.3" fill="none" stroke="#000" stroke-width="1.2" stroke-linejoin="miter"/><path d="M161.4,501.4C161.6,501.2 162.1,500.6 162.7,500.4C163.3,500.2 164.3,500.0 165.0,500.2C165.7,500.4 166.6,500.7 167.1,501.4C167.6,502.1 167.7,503.1 167.8,504.6C168.0,506.1 167.9,508.3 168.0,510.6C168.1,512.9 168.2,516.4 168.3,518.6C168.4,520.9 168.7,522.7 168.6,524.1C168.5,525.5 168.3,526.4 167.7,527.1C167.1,527.8 165.9,528.1 165.0,528.2C164.1,528.3 163.2,528.0 162.5,527.6C161.8,527.2 161.2,526.4 161.0,526.1" fill="#fff" stroke="#000" stroke-width="1.2"/><path d="M37.6,501.4C37.4,501.2 36.9,500.6 36.3,500.4C35.7,500.2 34.7,500.0 34.0,500.2C33.3,500.4 32.4,500.7 31.9,501.4C31.4,502.1 31.4,503.1 31.2,504.6C31.1,506.1 31.1,508.3 31.0,510.6C30.9,512.9 30.8,516.4 30.7,518.6C30.6,520.9 30.3,522.7 30.4,524.1C30.5,525.5 30.7,526.4 31.3,527.1C31.9,527.8 33.1,528.1 34.0,528.2C34.9,528.3 35.8,528.0 36.5,527.6C37.2,527.2 37.8,526.4 38.0,526.1" fill="#fff" stroke="#000" stroke-width="1.2"/>
<g clip-path="url(#c01)"><g filter="url(#jet)"><rect x="172.2" y="439.9" width="141.4" height="141.4" fill="#8b8b8b"/><g transform="translate(172,439) scale(5)"><path fill="#6a6a6a" d="M8 0h8v1h-8zM6 1h9v1h-9zM5 2h4v1h-4zM4 3h4v1h-4zM3 4h3v1h-3zM2 5h2v1h-2zM1 6h3v1h-3zM3 7h1v1h-1z"/><path fill="#6c6c6c" d="M16 0h4v1h-4zM15 1h5v1h-5zM9 2h7v1h-7zM8 3h2v1h-2zM13 3h2v1h-2zM6 4h3v1h-3zM4 5h2v1h-2zM4 6h1v1h-1zM1 7h2v1h-2zM4 7h1v1h-1z"/><path fill="#6e6e6e" d="M20 1h2v1h-2zM16 2h8v1h-8zM10 3h3v1h-3zM15 3h1v1h-1zM18 3h4v1h-4zM9 4h1v1h-1zM13 4h2v1h-2zM6 5h2v1h-2zM5 6h1v1h-1zM0 8h5v1h-5z"/><path fill="#707070" d="M16 3h2v1h-2zM22 3h3v1h-3zM10 4h1v1h-1zM12 4h1v1h-1zM15 4h1v1h-1zM18 4h8v1h-8zM8 5h1v1h-1zM21 5h5v1h-5zM23 6h4v1h-4zM5 7h1v1h-1zM23 7h3v1h-3zM5 8h1v1h-1zM0 9h3v1h-3zM0 10h2v1h-2zM0 11h1v1h-1z"/><path fill="#727272" d="M11 4h1v1h-1zM16 4h2v1h-2zM9 5h1v1h-1zM13 5h2v1h-2zM19 5h2v1h-2zM22 6h1v1h-1zM26 7h1v1h-1zM3 9h2v1h-2zM2 10h1v1h-1zM1 11h1v1h-1z"/><path fill="#747474" d="M15 5h4v1h-4zM6 6h1v1h-1zM22 7h1v1h-1zM23 8h2v1h-2zM5 9h1v1h-1zM3 10h1v1h-1zM2 11h1v1h-1z"/><path fill="#767676" d="M10 5h3v1h-3zM7 6h1v1h-1zM20 6h2v1h-2zM27 7h1v1h-1zM22 8h1v1h-1zM25 8h1v1h-1zM3 11h1v1h-1zM0 12h2v1h-2z"/><path fill="#787878" d="M19 6h1v1h-1zM6 7h1v1h-1zM21 7h1v1h-1zM6 8h1v1h-1zM26 8h1v1h-1zM4 10h2v1h-2zM2 12h1v1h-1z"/><path fill="#7a7a7a" d="M8 6h1v1h-1zM16 6h3v1h-3zM6 9h1v1h-1zM6 10h2v1h-2zM4 11h1v1h-1zM6 11h2v1h-2zM3 12h1v1h-1z"/><path fill="#7c7c7c" d="M14 6h2v1h-2zM19 7h2v1h-2zM21 8h1v1h-1zM27 8h1v1h-1zM23 9h2v1h-2zM8 10h1v1h-1zM13 10h2v1h-2zM5 11h1v1h-1zM8 11h1v1h-1zM13 11h2v1h-2zM0 13h1v1h-1z"/><path fill="#7e7e7e" d="M9 6h1v1h-1zM13 6h1v1h-1zM7 7h1v1h-1zM18 7h1v1h-1zM20 8h1v1h-1zM7 9h1v1h-1zM22 9h1v1h-1zM25 9h2v1h-2zM4 12h1v1h-1zM1 13h2v1h-2z"/><path fill="#808080" d="M12 6h1v1h-1zM17 7h1v1h-1zM7 8h1v1h-1zM19 8h1v1h-1zM8 9h1v1h-1zM27 9h2v1h-2zM9 10h1v1h-1zM26 10h3v1h-3zM9 11h1v1h-1zM12 11h1v1h-1zM5 12h1v1h-1z"/><path fill="#828282" d="M10 6h2v1h-2zM8 7h1v1h-1zM16 7h1v1h-1zM17 8h2v1h-2zM13 9h2v1h-2zM12 10h1v1h-1zM15 10h1v1h-1zM24 10h2v1h-2zM15 11h1v1h-1zM26 11h3v1h-3zM6 12h3v1h-3zM3 13h1v1h-1zM0 14h2v1h-2z"/><path fill="#848484" d="M14 7h2v1h-2zM8 8h1v1h-1zM15 8h2v1h-2zM15 9h1v1h-1zM21 9h1v1h-1zM23 10h1v1h-1zM10 11h2v1h-2zM25 11h1v1h-1zM13 12h2v1h-2zM2 14h1v1h-1z"/><path fill="#868686" d="M13 7h1v1h-1zM14 8h1v1h-1zM9 9h1v1h-1zM16 9h1v1h-1zM19 9h2v1h-2zM10 10h2v1h-2zM24 11h1v1h-1zM9 12h1v1h-1zM12 12h1v1h-1zM28 12h1v1h-1zM4 13h1v1h-1zM3 14h1v1h-1z"/><path fill="#888888" d="M9 7h1v1h-1zM13 8h1v1h-1zM12 9h1v1h-1zM17 9h2v1h-2zM16 10h1v1h-1zM22 10h1v1h-1zM23 11h1v1h-1zM25 12h3v1h-3zM5 13h1v1h-1zM0 15h1v1h-1z"/><path fill="#8a8a8a" d="M12 7h1v1h-1zM9 8h1v1h-1zM10 9h1v1h-1zM10 12h2v1h-2zM24 12h1v1h-1zM6 13h1v1h-1zM4 14h1v1h-1zM1 15h1v1h-1z"/><path fill="#8c8c8c" d="M12 8h1v1h-1zM11 9h1v1h-1zM17 10h1v1h-1zM21 10h1v1h-1zM22 11h1v1h-1zM15 12h1v1h-1zM7 13h1v1h-1zM2 15h1v1h-1z"/><path fill="#8e8e8e" d="M10 7h2v1h-2zM18 10h1v1h-1zM20 10h1v1h-1zM16 11h1v1h-1zM23 12h1v1h-1zM8 13h1v1h-1zM27 13h2v1h-2zM5 14h1v1h-1z"/><path fill="#909090" d="M10 8h2v1h-2zM19 10h1v1h-1zM21 11h1v1h-1zM22 12h1v1h-1zM9 13h1v1h-1zM12 13h3v1h-3zM25 13h2v1h-2zM6 14h1v1h-1zM3 15h1v1h-1z"/><path fill="#929292" d="M10 13h2v1h-2zM24 13h1v1h-1zM7 14h1v1h-1zM26 14h3v1h-3zM27 15h2v1h-2z"/><path fill="#949494" d="M17 11h1v1h-1zM20 11h1v1h-1zM23 13h1v1h-1zM8 14h1v1h-1zM13 14h1v1h-1zM24 14h2v1h-2zM4 15h1v1h-1zM25 15h2v1h-2zM0 16h1v1h-1zM25 16h4v1h-4zM26 17h3v1h-3zM26 18h3v1h-3zM27 19h1v1h-1z"/><path fill="#969696" d="M18 11h2v1h-2zM16 12h1v1h-1zM21 12h1v1h-1zM22 13h1v1h-1zM12 14h1v1h-1zM14 14h1v1h-1zM23 14h1v1h-1zM24 15h1v1h-1zM1 16h1v1h-1zM24 16h1v1h-1zM25 17h1v1h-1zM25 18h1v1h-1zM26 19h1v1h-1zM27 20h1v1h-1zM10 26h1v1h-1zM9 27h3v1h-3zM9 28h3v1h-3z"/><path fill="#989898" d="M15 13h1v1h-1zM9 14h1v1h-1zM11 14h1v1h-1zM22 14h1v1h-1zM5 15h3v1h-3zM13 15h1v1h-1zM23 15h1v1h-1zM2 16h1v1h-1zM23 16h1v1h-1zM24 17h1v1h-1zM24 18h1v1h-1zM25 19h1v1h-1zM26 20h1v1h-1zM27 21h1v1h-1zM20 24h4v1h-4zM10 25h2v1h-2zM19 25h5v1h-5zM9 26h1v1h-1zM11 26h1v1h-1zM17 26h6v1h-6zM8 27h1v1h-1zM12 27h1v1h-1zM17 27h5v1h-5zM12 28h1v1h-1zM16 28h3v1h-3z"/><path fill="#9a9a9a" d="M20 12h1v1h-1zM10 14h1v1h-1zM14 15h1v1h-1zM22 15h1v1h-1zM0 17h2v1h-2zM23 17h1v1h-1zM0 18h1v1h-1zM24 19h1v1h-1zM25 20h1v1h-1zM25 21h2v1h-2zM25 22h2v1h-2zM19 23h7v1h-7zM11 24h1v1h-1zM19 24h1v1h-1zM24 24h1v1h-1zM9 25h1v1h-1zM12 25h2v1h-2zM16 25h3v1h-3zM8 26h1v1h-1zM12 26h5v1h-5zM7 27h1v1h-1zM13 27h4v1h-4zM13 28h3v1h-3z"/><path fill="#9c9c9c" d="M21 13h1v1h-1zM15 14h1v1h-1zM8 15h1v1h-1zM12 15h1v1h-1zM3 16h1v1h-1zM13 16h1v1h-1zM22 16h1v1h-1zM2 17h1v1h-1zM1 18h1v1h-1zM0 19h2v1h-2zM0 20h1v1h-1zM24 20h1v1h-1zM24 21h1v1h-1zM19 22h3v1h-3zM23 22h2v1h-2zM11 23h4v1h-4zM18 23h1v1h-1zM10 24h1v1h-1zM12 24h7v1h-7zM14 25h2v1h-2z"/><path fill="#9e9e9e" d="M17 12h1v1h-1zM19 12h1v1h-1zM21 14h1v1h-1zM21 15h1v1h-1zM14 16h1v1h-1zM13 17h2v1h-2zM22 17h1v1h-1zM2 18h1v1h-1zM12 18h3v1h-3zM23 18h1v1h-1zM2 19h1v1h-1zM11 19h4v1h-4zM1 20h1v1h-1zM11 20h3v1h-3zM23 20h1v1h-1zM11 21h4v1h-4zM23 21h1v1h-1zM11 22h5v1h-5zM18 22h1v1h-1zM22 22h1v1h-1zM10 23h1v1h-1zM15 23h3v1h-3zM9 24h1v1h-1zM8 25h1v1h-1zM7 26h1v1h-1z"/><path fill="#a0a0a0" d="M18 12h1v1h-1zM16 13h1v1h-1zM20 13h1v1h-1zM9 15h1v1h-1zM11 15h1v1h-1zM15 15h1v1h-1zM4 16h1v1h-1zM6 16h2v1h-2zM12 16h1v1h-1zM21 16h1v1h-1zM3 17h1v1h-1zM12 17h1v1h-1zM3 18h1v1h-1zM11 18h1v1h-1zM3 19h1v1h-1zM10 19h1v1h-1zM15 19h1v1h-1zM23 19h1v1h-1zM2 20h1v1h-1zM10 20h1v1h-1zM14 20h2v1h-2zM1 21h1v1h-1zM15 21h6v1h-6zM22 21h1v1h-1zM16 22h2v1h-2z"/><path fill="#a2a2a2" d="M20 14h1v1h-1zM10 15h1v1h-1zM20 15h1v1h-1zM5 16h1v1h-1zM8 16h1v1h-1zM20 16h1v1h-1zM7 17h1v1h-1zM11 17h1v1h-1zM21 17h1v1h-1zM7 18h4v1h-4zM15 18h1v1h-1zM22 18h1v1h-1zM4 19h1v1h-1zM6 19h4v1h-4zM3 20h3v1h-3zM9 20h1v1h-1zM16 20h4v1h-4zM22 20h1v1h-1zM2 21h4v1h-4zM10 21h1v1h-1zM21 21h1v1h-1zM1 22h4v1h-4zM10 22h1v1h-1zM2 23h3v1h-3zM9 23h1v1h-1zM3 24h1v1h-1zM8 24h1v1h-1zM7 25h1v1h-1zM6 26h1v1h-1z"/><path fill="#a4a4a4" d="M19 13h1v1h-1zM16 14h1v1h-1zM19 15h1v1h-1zM11 16h1v1h-1zM15 16h1v1h-1zM4 17h1v1h-1zM6 17h1v1h-1zM8 17h3v1h-3zM15 17h1v1h-1zM20 17h1v1h-1zM4 18h1v1h-1zM6 18h1v1h-1zM5 19h1v1h-1zM16 19h4v1h-4zM22 19h1v1h-1zM6 20h3v1h-3zM20 20h2v1h-2zM6 21h1v1h-1zM5 22h1v1h-1zM5 23h1v1h-1zM4 24h4v1h-4zM4 25h3v1h-3zM5 26h1v1h-1z"/><path fill="#a6a6a6" d="M17 13h2v1h-2zM19 14h1v1h-1zM9 16h2v1h-2zM19 16h1v1h-1zM5 17h1v1h-1zM19 17h1v1h-1zM5 18h1v1h-1zM19 18h3v1h-3zM20 19h2v1h-2zM7 21h1v1h-1zM9 21h1v1h-1zM6 22h1v1h-1zM9 22h1v1h-1zM6 23h3v1h-3z"/><path fill="#a8a8a8" d="M17 14h2v1h-2zM16 15h1v1h-1zM18 15h1v1h-1zM16 18h1v1h-1zM18 18h1v1h-1zM8 21h1v1h-1zM7 22h2v1h-2z"/><path fill="#aaaaaa" d="M17 15h1v1h-1zM16 16h1v1h-1zM18 16h1v1h-1zM18 17h1v1h-1zM17 18h1v1h-1z"/><path fill="#acacac" d="M17 16h1v1h-1zM16 17h1v1h-1z"/><path fill="#aeaeae" d="M17 17h1v1h-1z"/></g></g></g>
<circle cx="242.9" cy="510.6" r="62.7" fill="none" stroke="#000" stroke-width="1.3"/><polyline points="230.7,449.3 242.9,438.2 255.1,449.3" fill="none" stroke="#000" stroke-width="1.2" stroke-linejoin="miter"/><path d="M304.8,501.4C305.0,501.2 305.5,500.6 306.1,500.4C306.7,500.2 307.7,500.0 308.4,500.2C309.1,500.4 310.0,500.7 310.5,501.4C311.0,502.1 311.1,503.1 311.2,504.6C311.3,506.1 311.3,508.3 311.4,510.6C311.5,512.9 311.6,516.4 311.7,518.6C311.8,520.9 312.1,522.7 312.0,524.1C311.9,525.5 311.7,526.4 311.1,527.1C310.5,527.8 309.3,528.1 308.4,528.2C307.5,528.3 306.6,528.0 305.9,527.6C305.2,527.2 304.6,526.4 304.4,526.1" fill="#fff" stroke="#000" stroke-width="1.2"/><path d="M181.0,501.4C180.8,501.2 180.3,500.6 179.7,500.4C179.1,500.2 178.1,500.0 177.4,500.2C176.7,500.4 175.8,500.7 175.3,501.4C174.8,502.1 174.8,503.1 174.6,504.6C174.5,506.1 174.5,508.3 174.4,510.6C174.3,512.9 174.2,516.4 174.1,518.6C174.0,520.9 173.7,522.7 173.8,524.1C173.9,525.5 174.1,526.4 174.7,527.1C175.3,527.8 176.5,528.1 177.4,528.2C178.3,528.3 179.2,528.0 179.9,527.6C180.6,527.2 181.2,526.4 181.4,526.1" fill="#fff" stroke="#000" stroke-width="1.2"/>
<g clip-path="url(#c02)"><g filter="url(#jet)"><rect x="315.5" y="439.9" width="141.4" height="141.4" fill="#767676"/><g transform="translate(315,439) scale(5)"><path fill="#4a4a4a" d="M5 2h1v1h-1zM5 3h2v1h-2zM6 4h2v1h-2zM7 5h2v1h-2zM7 6h2v1h-2z"/><path fill="#4c4c4c" d="M6 1h1v1h-1zM6 2h2v1h-2zM4 3h1v1h-1zM7 3h2v1h-2zM4 4h2v1h-2zM8 4h3v1h-3zM12 4h2v1h-2zM5 5h2v1h-2zM9 5h6v1h-6zM6 6h1v1h-1zM9 6h1v1h-1zM12 6h3v1h-3zM6 7h4v1h-4zM13 7h1v1h-1zM6 8h4v1h-4zM12 8h2v1h-2zM6 9h4v1h-4zM12 9h2v1h-2zM7 10h4v1h-4z"/><path fill="#4e4e4e" d="M8 0h3v1h-3zM7 1h5v1h-5zM8 2h4v1h-4zM9 3h5v1h-5zM3 4h1v1h-1zM11 4h1v1h-1zM14 4h1v1h-1zM2 5h3v1h-3zM1 6h5v1h-5zM10 6h2v1h-2zM1 7h5v1h-5zM10 7h3v1h-3zM14 7h1v1h-1zM0 8h2v1h-2zM4 8h2v1h-2zM10 8h2v1h-2zM14 8h1v1h-1zM0 9h1v1h-1zM5 9h1v1h-1zM10 9h2v1h-2zM14 9h1v1h-1zM6 10h1v1h-1zM11 10h3v1h-3zM7 11h5v1h-5z"/><path fill="#505050" d="M11 0h3v1h-3zM12 1h2v1h-2zM12 2h3v1h-3zM14 3h1v1h-1zM15 4h1v1h-1zM15 5h1v1h-1zM15 6h1v1h-1zM15 7h1v1h-1zM2 8h2v1h-2zM15 8h1v1h-1zM1 9h4v1h-4zM0 10h6v1h-6zM14 10h1v1h-1zM0 11h1v1h-1zM6 11h1v1h-1zM12 11h1v1h-1z"/><path fill="#525252" d="M14 0h2v1h-2zM14 1h2v1h-2zM15 2h1v1h-1zM15 3h1v1h-1zM15 9h1v1h-1zM1 11h5v1h-5zM13 11h2v1h-2z"/><path fill="#545454" d="M16 5h1v1h-1zM16 6h1v1h-1zM16 7h1v1h-1zM15 10h1v1h-1z"/><path fill="#565656" d="M16 1h1v1h-1zM16 2h1v1h-1zM16 3h1v1h-1zM16 4h1v1h-1zM17 6h1v1h-1zM17 7h1v1h-1zM16 8h1v1h-1zM16 9h1v1h-1zM15 11h1v1h-1zM0 12h1v1h-1zM7 12h5v1h-5z"/><path fill="#585858" d="M16 0h1v1h-1zM21 1h1v1h-1zM17 2h1v1h-1zM20 2h4v1h-4zM17 3h8v1h-8zM17 4h7v1h-7zM17 5h6v1h-6zM18 6h4v1h-4zM18 7h3v1h-3zM17 8h2v1h-2zM16 10h1v1h-1zM1 12h6v1h-6zM12 12h1v1h-1z"/><path fill="#5a5a5a" d="M17 0h3v1h-3zM17 1h4v1h-4zM18 2h2v1h-2zM24 4h1v1h-1zM23 5h1v1h-1zM22 6h1v1h-1zM21 7h2v1h-2zM19 8h1v1h-1zM17 9h1v1h-1zM13 12h1v1h-1z"/><path fill="#5c5c5c" d="M25 4h1v1h-1zM24 5h3v1h-3zM23 6h4v1h-4zM23 7h3v1h-3zM20 8h2v1h-2zM17 10h1v1h-1zM16 11h1v1h-1zM14 12h1v1h-1z"/><path fill="#5e5e5e" d="M26 7h1v1h-1zM22 8h3v1h-3zM18 9h1v1h-1z"/><path fill="#606060" d="M27 7h1v1h-1zM25 8h1v1h-1zM17 11h1v1h-1zM15 12h1v1h-1zM0 13h4v1h-4zM7 13h4v1h-4z"/><path fill="#626262" d="M26 8h1v1h-1zM19 9h1v1h-1zM18 10h1v1h-1zM4 13h3v1h-3zM11 13h1v1h-1z"/><path fill="#646464" d="M27 8h1v1h-1zM23 9h4v1h-4zM16 12h1v1h-1zM12 13h1v1h-1zM0 14h3v1h-3z"/><path fill="#666666" d="M20 9h1v1h-1zM22 9h1v1h-1zM27 9h2v1h-2zM25 10h4v1h-4zM18 11h1v1h-1zM3 14h1v1h-1zM7 14h4v1h-4z"/><path fill="#686868" d="M21 9h1v1h-1zM24 10h1v1h-1zM25 11h4v1h-4zM17 12h1v1h-1zM13 13h2v1h-2zM4 14h3v1h-3zM11 14h1v1h-1z"/><path fill="#6a6a6a" d="M23 10h1v1h-1zM24 11h1v1h-1zM12 14h1v1h-1zM0 15h2v1h-2z"/><path fill="#6c6c6c" d="M19 10h1v1h-1zM18 12h1v1h-1zM28 12h1v1h-1zM15 13h1v1h-1zM2 15h1v1h-1z"/><path fill="#6e6e6e" d="M22 10h1v1h-1zM23 11h1v1h-1zM25 12h3v1h-3zM13 14h1v1h-1zM3 15h1v1h-1zM7 15h3v1h-3z"/><path fill="#707070" d="M20 10h1v1h-1zM19 11h1v1h-1zM24 12h1v1h-1zM16 13h1v1h-1zM14 14h1v1h-1zM4 15h3v1h-3zM10 15h2v1h-2z"/><path fill="#727272" d="M21 10h1v1h-1zM22 11h1v1h-1zM23 12h1v1h-1zM17 13h1v1h-1zM15 14h1v1h-1zM12 15h1v1h-1zM0 16h2v1h-2z"/><path fill="#747474" d="M19 12h1v1h-1zM18 13h1v1h-1zM27 13h2v1h-2zM16 14h1v1h-1zM13 15h2v1h-2zM2 16h1v1h-1z"/><path fill="#767676" d="M20 11h2v1h-2zM22 12h1v1h-1zM25 13h2v1h-2zM17 14h1v1h-1zM0 17h2v1h-2zM0 18h1v1h-1z"/><path fill="#787878" d="M20 12h2v1h-2zM19 13h1v1h-1zM24 13h1v1h-1zM18 14h1v1h-1zM27 14h2v1h-2zM15 15h1v1h-1zM3 16h1v1h-1zM2 17h1v1h-1zM1 18h1v1h-1zM0 19h1v1h-1z"/><path fill="#7a7a7a" d="M23 13h1v1h-1zM25 14h2v1h-2zM16 15h1v1h-1zM28 15h1v1h-1zM7 16h3v1h-3z"/><path fill="#7c7c7c" d="M20 13h3v1h-3zM19 14h1v1h-1zM24 14h1v1h-1zM17 15h1v1h-1zM25 15h3v1h-3zM4 16h1v1h-1zM6 16h1v1h-1zM10 16h5v1h-5zM3 17h1v1h-1zM2 18h1v1h-1zM1 19h1v1h-1z"/><path fill="#7e7e7e" d="M20 14h4v1h-4zM18 15h2v1h-2zM24 15h1v1h-1zM5 16h1v1h-1zM15 16h1v1h-1zM26 16h3v1h-3zM0 20h1v1h-1z"/><path fill="#808080" d="M20 15h2v1h-2zM23 15h1v1h-1zM25 16h1v1h-1zM7 17h2v1h-2zM13 17h2v1h-2zM26 17h3v1h-3zM3 18h1v1h-1zM27 18h2v1h-2z"/><path fill="#828282" d="M22 15h1v1h-1zM16 16h1v1h-1zM24 16h1v1h-1zM4 17h1v1h-1zM6 17h1v1h-1zM9 17h4v1h-4zM15 17h1v1h-1zM25 17h1v1h-1zM13 18h2v1h-2zM26 18h1v1h-1zM2 19h1v1h-1zM27 19h1v1h-1z"/><path fill="#848484" d="M17 16h5v1h-5zM23 16h1v1h-1zM5 17h1v1h-1zM24 17h1v1h-1zM8 18h2v1h-2zM11 18h2v1h-2zM15 18h1v1h-1zM25 18h1v1h-1z"/><path fill="#868686" d="M22 16h1v1h-1zM16 17h1v1h-1zM19 17h2v1h-2zM4 18h1v1h-1zM7 18h1v1h-1zM10 18h1v1h-1zM13 19h2v1h-2zM26 19h1v1h-1zM1 20h1v1h-1z"/><path fill="#888888" d="M17 17h2v1h-2zM21 17h3v1h-3zM5 18h2v1h-2zM16 18h1v1h-1zM3 19h1v1h-1zM10 19h3v1h-3zM15 19h1v1h-1z"/><path fill="#8a8a8a" d="M17 18h3v1h-3zM24 18h1v1h-1zM9 19h1v1h-1zM16 19h2v1h-2zM12 20h4v1h-4zM27 20h1v1h-1z"/><path fill="#8c8c8c" d="M20 18h1v1h-1zM4 19h1v1h-1zM7 19h2v1h-2zM18 19h1v1h-1zM25 19h1v1h-1zM2 20h1v1h-1zM11 20h1v1h-1zM16 20h2v1h-2z"/><path fill="#8e8e8e" d="M21 18h1v1h-1zM23 18h1v1h-1zM5 19h2v1h-2zM10 20h1v1h-1zM18 20h1v1h-1zM14 21h2v1h-2z"/><path fill="#909090" d="M22 18h1v1h-1zM19 19h1v1h-1zM3 20h1v1h-1zM9 20h1v1h-1zM1 21h1v1h-1zM13 21h1v1h-1zM16 21h2v1h-2z"/><path fill="#929292" d="M24 19h1v1h-1zM8 20h1v1h-1zM26 20h1v1h-1zM12 21h1v1h-1zM18 21h1v1h-1z"/><path fill="#949494" d="M20 19h1v1h-1zM4 20h1v1h-1zM7 20h1v1h-1zM19 20h1v1h-1zM2 21h1v1h-1z"/><path fill="#969696" d="M23 19h1v1h-1zM5 20h2v1h-2zM3 21h1v1h-1zM11 21h1v1h-1zM19 21h1v1h-1zM27 21h1v1h-1z"/><path fill="#989898" d="M21 19h2v1h-2zM20 20h1v1h-1zM25 20h1v1h-1zM20 21h1v1h-1zM15 22h6v1h-6zM20 23h2v1h-2zM20 24h3v1h-3zM21 25h2v1h-2zM22 26h1v1h-1z"/><path fill="#9a9a9a" d="M21 20h1v1h-1zM24 20h1v1h-1zM4 21h1v1h-1zM10 21h1v1h-1zM21 21h1v1h-1zM26 21h1v1h-1zM2 22h1v1h-1zM14 22h1v1h-1zM21 22h3v1h-3zM19 23h1v1h-1zM22 23h4v1h-4zM19 24h1v1h-1zM23 24h2v1h-2zM20 25h1v1h-1zM23 25h1v1h-1zM21 26h1v1h-1zM21 27h1v1h-1z"/><path fill="#9c9c9c" d="M22 20h2v1h-2zM8 21h2v1h-2zM22 21h4v1h-4zM13 22h1v1h-1zM24 22h3v1h-3zM17 23h2v1h-2zM18 24h1v1h-1zM19 25h1v1h-1zM20 26h1v1h-1zM20 27h1v1h-1z"/><path fill="#9e9e9e" d="M5 21h1v1h-1zM7 21h1v1h-1zM3 22h1v1h-1zM15 23h2v1h-2zM17 24h1v1h-1zM17 25h2v1h-2zM17 26h3v1h-3zM17 27h3v1h-3zM17 28h3v1h-3z"/><path fill="#a0a0a0" d="M6 21h1v1h-1zM14 23h1v1h-1zM15 24h2v1h-2zM16 25h1v1h-1zM16 26h1v1h-1zM16 27h1v1h-1zM16 28h1v1h-1z"/><path fill="#a2a2a2" d="M4 22h1v1h-1zM12 22h1v1h-1zM2 23h1v1h-1zM13 23h1v1h-1zM14 24h1v1h-1zM15 25h1v1h-1z"/><path fill="#a4a4a4" d="M13 24h1v1h-1zM14 25h1v1h-1zM14 26h2v1h-2zM15 27h1v1h-1zM15 28h1v1h-1z"/><path fill="#a6a6a6" d="M3 23h1v1h-1zM13 25h1v1h-1zM13 26h1v1h-1zM13 27h2v1h-2zM13 28h2v1h-2z"/><path fill="#a8a8a8" d="M5 22h2v1h-2zM11 22h1v1h-1z"/><path fill="#aaaaaa" d="M7 22h2v1h-2zM10 22h1v1h-1zM4 23h1v1h-1zM12 23h1v1h-1z"/><path fill="#acacac" d="M9 22h1v1h-1zM5 23h1v1h-1zM3 24h1v1h-1zM12 24h1v1h-1zM12 25h1v1h-1zM12 26h1v1h-1zM12 27h1v1h-1zM12 28h1v1h-1z"/><path fill="#aeaeae" d="M6 23h1v1h-1zM4 24h2v1h-2zM4 25h1v1h-1z"/><path fill="#b0b0b0" d="M7 23h2v1h-2zM11 23h1v1h-1zM6 24h1v1h-1zM5 25h2v1h-2zM5 26h1v1h-1z"/><path fill="#b2b2b2" d="M9 23h2v1h-2zM7 24h2v1h-2zM11 24h1v1h-1zM7 25h1v1h-1zM6 26h1v1h-1z"/><path fill="#b4b4b4" d="M9 24h2v1h-2zM8 25h4v1h-4zM7 26h2v1h-2zM11 26h1v1h-1zM7 27h1v1h-1zM11 27h1v1h-1zM11 28h1v1h-1z"/><path fill="#b6b6b6" d="M9 26h2v1h-2zM8 27h3v1h-3zM9 28h2v1h-2z"/></g><ellipse cx="356.1" cy="471.7" rx="8.0" ry="8.0" fill="url(#b1)"/></g></g>
<circle cx="386.2" cy="510.6" r="62.7" fill="none" stroke="#000" stroke-width="1.3"/><polyline points="374.0,449.3 386.2,438.2 398.4,449.3" fill="none" stroke="#000" stroke-width="1.2" stroke-linejoin="miter"/><path d="M448.1,501.4C448.3,501.2 448.8,500.6 449.4,500.4C450.0,500.2 451.0,500.0 451.7,500.2C452.4,500.4 453.3,500.7 453.8,501.4C454.3,502.1 454.4,503.1 454.5,504.6C454.6,506.1 454.6,508.3 454.7,510.6C454.8,512.9 454.9,516.4 455.0,518.6C455.1,520.9 455.4,522.7 455.3,524.1C455.2,525.5 455.0,526.4 454.4,527.1C453.8,527.8 452.6,528.1 451.7,528.2C450.8,528.3 449.9,528.0 449.2,527.6C448.5,527.2 447.9,526.4 447.7,526.1" fill="#fff" stroke="#000" stroke-width="1.2"/><path d="M324.3,501.4C324.1,501.2 323.6,500.6 323.0,500.4C322.4,500.2 321.4,500.0 320.7,500.2C320.0,500.4 319.1,500.7 318.6,501.4C318.1,502.1 318.0,503.1 317.9,504.6C317.8,506.1 317.8,508.3 317.7,510.6C317.6,512.9 317.5,516.4 317.4,518.6C317.3,520.9 317.0,522.7 317.1,524.1C317.2,525.5 317.4,526.4 318.0,527.1C318.6,527.8 319.8,528.1 320.7,528.2C321.6,528.3 322.5,528.0 323.2,527.6C323.9,527.2 324.4,526.4 324.7,526.1" fill="#fff" stroke="#000" stroke-width="1.2"/>
<g clip-path="url(#c10)"><g filter="url(#jet)"><rect x="28.8" y="639.4" width="141.4" height="141.4" fill="#898989"/><g transform="translate(28,639) scale(5)"><path fill="#787878" d="M0 9h1v1h-1zM28 9h1v1h-1zM0 10h1v1h-1zM28 10h1v1h-1zM28 11h1v1h-1z"/><path fill="#7a7a7a" d="M0 8h1v1h-1zM1 9h1v1h-1zM27 9h1v1h-1zM1 10h2v1h-2zM26 10h2v1h-2zM0 11h2v1h-2zM26 11h2v1h-2zM27 12h2v1h-2zM28 13h1v1h-1z"/><path fill="#7c7c7c" d="M1 8h1v1h-1zM27 8h1v1h-1zM2 9h1v1h-1zM26 9h1v1h-1zM25 10h1v1h-1zM2 11h1v1h-1zM25 11h1v1h-1zM0 12h2v1h-2zM26 12h1v1h-1zM26 13h2v1h-2zM27 14h2v1h-2z"/><path fill="#7e7e7e" d="M1 7h2v1h-2zM2 8h2v1h-2zM26 8h1v1h-1zM3 9h1v1h-1zM25 9h1v1h-1zM3 10h1v1h-1zM3 11h1v1h-1zM2 12h1v1h-1zM25 12h1v1h-1zM0 13h1v1h-1zM26 14h1v1h-1z"/><path fill="#808080" d="M3 4h1v1h-1zM2 5h3v1h-3zM1 6h4v1h-4zM3 7h2v1h-2zM27 7h1v1h-1zM4 8h1v1h-1zM4 9h1v1h-1zM4 10h1v1h-1zM24 10h1v1h-1zM24 11h1v1h-1zM1 13h1v1h-1zM25 13h1v1h-1zM0 14h1v1h-1zM27 15h2v1h-2z"/><path fill="#828282" d="M4 4h1v1h-1zM5 5h1v1h-1zM5 6h1v1h-1zM5 7h1v1h-1zM26 7h1v1h-1zM5 8h1v1h-1zM25 8h1v1h-1zM5 9h1v1h-1zM24 9h1v1h-1zM4 11h1v1h-1zM3 12h1v1h-1zM24 12h1v1h-1zM2 13h1v1h-1zM1 14h1v1h-1zM25 14h1v1h-1zM0 15h2v1h-2zM26 15h1v1h-1z"/><path fill="#848484" d="M5 2h1v1h-1zM4 3h3v1h-3zM5 4h2v1h-2zM6 5h1v1h-1zM25 5h2v1h-2zM6 6h1v1h-1zM24 6h3v1h-3zM6 7h1v1h-1zM24 7h2v1h-2zM24 8h1v1h-1zM23 9h1v1h-1zM5 10h1v1h-1zM23 10h1v1h-1zM23 11h1v1h-1zM2 14h1v1h-1zM0 16h2v1h-2zM0 17h1v1h-1z"/><path fill="#868686" d="M6 1h1v1h-1zM6 2h1v1h-1zM7 3h1v1h-1zM7 4h1v1h-1zM25 4h1v1h-1zM7 5h1v1h-1zM24 5h1v1h-1zM7 6h1v1h-1zM23 7h1v1h-1zM6 8h1v1h-1zM23 8h1v1h-1zM5 11h1v1h-1zM4 12h1v1h-1zM3 13h1v1h-1zM24 13h1v1h-1zM2 15h1v1h-1zM25 15h1v1h-1zM27 16h2v1h-2zM1 17h1v1h-1zM0 18h2v1h-2zM0 19h1v1h-1z"/><path fill="#888888" d="M7 2h1v1h-1zM8 4h1v1h-1zM8 5h1v1h-1zM23 6h1v1h-1zM7 7h1v1h-1zM6 9h1v1h-1zM23 12h1v1h-1zM3 14h1v1h-1zM24 14h1v1h-1zM2 16h1v1h-1zM26 16h1v1h-1zM2 17h1v1h-1zM28 17h1v1h-1zM1 19h1v1h-1z"/><path fill="#8a8a8a" d="M7 1h1v1h-1zM8 3h1v1h-1zM8 6h1v1h-1zM7 8h1v1h-1zM22 10h1v1h-1zM5 12h1v1h-1zM4 13h1v1h-1zM3 15h1v1h-1zM24 15h1v1h-1zM25 16h1v1h-1zM26 17h2v1h-2zM2 18h1v1h-1zM27 18h2v1h-2zM27 19h1v1h-1z"/><path fill="#8c8c8c" d="M17 0h4v1h-4zM17 1h3v1h-3zM8 2h1v1h-1zM24 4h1v1h-1zM8 7h1v1h-1zM22 8h1v1h-1zM22 9h1v1h-1zM6 10h1v1h-1zM22 11h1v1h-1zM23 13h1v1h-1zM4 14h1v1h-1zM3 16h1v1h-1zM25 17h1v1h-1zM26 18h1v1h-1z"/><path fill="#8e8e8e" d="M16 0h1v1h-1zM8 1h1v1h-1zM16 1h1v1h-1zM17 2h2v1h-2zM23 5h1v1h-1zM22 7h1v1h-1zM8 8h1v1h-1zM7 9h1v1h-1zM6 11h1v1h-1zM22 12h1v1h-1zM23 14h1v1h-1zM24 16h1v1h-1zM3 17h1v1h-1zM25 18h1v1h-1zM2 19h1v1h-1zM26 19h1v1h-1zM27 20h1v1h-1z"/><path fill="#909090" d="M8 0h4v1h-4zM9 1h2v1h-2zM20 1h1v1h-1zM9 2h1v1h-1zM16 2h1v1h-1zM19 2h1v1h-1zM9 3h1v1h-1zM16 3h3v1h-3zM9 4h1v1h-1zM9 5h1v1h-1zM5 13h1v1h-1zM4 15h1v1h-1zM23 15h1v1h-1zM24 17h1v1h-1zM3 18h1v1h-1zM25 19h1v1h-1zM1 20h1v1h-1zM7 27h14v1h-14zM9 28h10v1h-10z"/><path fill="#929292" d="M12 0h1v1h-1zM15 0h1v1h-1zM11 1h1v1h-1zM10 2h1v1h-1zM16 4h2v1h-2zM9 6h1v1h-1zM22 6h1v1h-1zM8 9h1v1h-1zM7 10h1v1h-1zM24 18h1v1h-1zM3 19h1v1h-1zM26 20h1v1h-1zM27 21h1v1h-1zM5 24h3v1h-3zM21 24h3v1h-3zM4 25h6v1h-6zM19 25h5v1h-5zM5 26h18v1h-18zM21 27h1v1h-1z"/><path fill="#949494" d="M13 0h2v1h-2zM12 1h4v1h-4zM11 2h5v1h-5zM20 2h1v1h-1zM10 3h1v1h-1zM14 3h2v1h-2zM19 3h1v1h-1zM15 4h1v1h-1zM18 4h1v1h-1zM16 5h2v1h-2zM9 7h1v1h-1zM21 9h1v1h-1zM21 10h1v1h-1zM7 11h1v1h-1zM21 11h1v1h-1zM6 12h1v1h-1zM22 13h1v1h-1zM5 14h1v1h-1zM4 16h1v1h-1zM23 16h1v1h-1zM23 17h1v1h-1zM24 19h1v1h-1zM2 20h1v1h-1zM24 20h2v1h-2zM1 21h1v1h-1zM24 21h3v1h-3zM24 22h3v1h-3zM5 23h3v1h-3zM20 23h6v1h-6zM4 24h1v1h-1zM8 24h1v1h-1zM19 24h2v1h-2zM24 24h1v1h-1zM10 25h2v1h-2zM17 25h2v1h-2z"/><path fill="#969696" d="M21 1h1v1h-1zM11 3h3v1h-3zM24 3h1v1h-1zM13 4h2v1h-2zM23 4h1v1h-1zM14 5h2v1h-2zM16 6h2v1h-2zM9 8h1v1h-1zM21 8h1v1h-1zM8 10h1v1h-1zM22 14h1v1h-1zM5 15h1v1h-1zM4 17h1v1h-1zM4 18h1v1h-1zM23 18h1v1h-1zM4 19h1v1h-1zM23 19h1v1h-1zM3 20h1v1h-1zM23 20h1v1h-1zM2 21h2v1h-2zM23 21h1v1h-1zM2 22h1v1h-1zM23 22h1v1h-1zM3 23h2v1h-2zM8 23h1v1h-1zM19 23h1v1h-1zM3 24h1v1h-1zM9 24h1v1h-1zM18 24h1v1h-1zM12 25h5v1h-5z"/><path fill="#989898" d="M10 4h1v1h-1zM12 4h1v1h-1zM13 5h1v1h-1zM18 5h1v1h-1zM22 5h1v1h-1zM15 6h1v1h-1zM16 7h2v1h-2zM21 7h1v1h-1zM17 8h1v1h-1zM9 9h1v1h-1zM20 9h1v1h-1zM20 10h1v1h-1zM8 11h1v1h-1zM20 11h1v1h-1zM21 12h1v1h-1zM22 15h1v1h-1zM4 20h1v1h-1zM4 21h2v1h-2zM3 22h5v1h-5zM21 22h2v1h-2zM2 23h1v1h-1zM9 23h1v1h-1zM10 24h1v1h-1zM17 24h1v1h-1z"/><path fill="#9a9a9a" d="M22 1h1v1h-1zM21 2h1v1h-1zM20 3h1v1h-1zM23 3h1v1h-1zM11 4h1v1h-1zM19 4h1v1h-1zM10 5h1v1h-1zM12 5h1v1h-1zM14 6h1v1h-1zM18 7h1v1h-1zM16 8h1v1h-1zM18 8h3v1h-3zM18 9h2v1h-2zM19 10h1v1h-1zM6 13h1v1h-1zM5 16h1v1h-1zM22 16h1v1h-1zM22 17h1v1h-1zM22 18h1v1h-1zM5 19h1v1h-1zM22 19h1v1h-1zM5 20h1v1h-1zM22 20h1v1h-1zM22 21h1v1h-1zM8 22h1v1h-1zM20 22h1v1h-1zM18 23h1v1h-1zM11 24h1v1h-1zM16 24h1v1h-1z"/><path fill="#9c9c9c" d="M22 2h2v1h-2zM21 3h2v1h-2zM20 4h3v1h-3zM11 5h1v1h-1zM10 6h1v1h-1zM13 6h1v1h-1zM18 6h1v1h-1zM21 6h1v1h-1zM10 7h1v1h-1zM15 7h1v1h-1zM17 9h1v1h-1zM9 10h1v1h-1zM18 10h1v1h-1zM19 11h1v1h-1zM7 12h1v1h-1zM5 17h1v1h-1zM5 18h1v1h-1zM6 21h1v1h-1zM10 23h1v1h-1zM12 24h4v1h-4z"/><path fill="#9e9e9e" d="M19 5h3v1h-3zM11 6h2v1h-2zM14 7h1v1h-1zM19 7h2v1h-2zM10 8h1v1h-1zM15 8h1v1h-1zM16 9h1v1h-1zM20 12h1v1h-1zM21 13h1v1h-1zM6 14h1v1h-1zM6 20h1v1h-1zM21 21h1v1h-1zM9 22h1v1h-1zM19 22h1v1h-1zM11 23h1v1h-1zM17 23h1v1h-1z"/><path fill="#a0a0a0" d="M19 6h2v1h-2zM11 7h3v1h-3zM17 10h1v1h-1zM9 11h1v1h-1zM18 11h1v1h-1zM8 12h1v1h-1zM19 12h1v1h-1zM21 14h1v1h-1zM21 15h1v1h-1zM21 16h1v1h-1zM6 19h1v1h-1zM21 20h1v1h-1zM7 21h1v1h-1zM12 23h1v1h-1zM16 23h1v1h-1z"/><path fill="#a2a2a2" d="M11 8h4v1h-4zM10 9h1v1h-1zM15 9h1v1h-1zM16 10h1v1h-1zM17 11h1v1h-1zM7 13h1v1h-1zM20 13h1v1h-1zM6 15h1v1h-1zM21 17h1v1h-1zM21 18h1v1h-1zM21 19h1v1h-1zM8 21h1v1h-1zM20 21h1v1h-1zM13 23h3v1h-3z"/><path fill="#a4a4a4" d="M11 9h1v1h-1zM10 10h1v1h-1zM20 14h1v1h-1zM6 18h1v1h-1zM7 20h1v1h-1zM10 22h1v1h-1zM18 22h1v1h-1z"/><path fill="#a6a6a6" d="M12 9h3v1h-3zM16 11h1v1h-1zM9 12h1v1h-1zM18 12h1v1h-1zM7 14h1v1h-1zM20 15h1v1h-1zM6 16h1v1h-1zM20 16h1v1h-1zM6 17h1v1h-1zM20 17h1v1h-1zM20 18h1v1h-1zM7 19h1v1h-1zM20 19h1v1h-1zM20 20h1v1h-1zM11 22h1v1h-1z"/><path fill="#a8a8a8" d="M11 10h1v1h-1zM15 10h1v1h-1zM10 11h1v1h-1zM8 13h1v1h-1zM19 13h1v1h-1zM8 20h1v1h-1zM19 21h1v1h-1zM17 22h1v1h-1z"/><path fill="#aaaaaa" d="M12 10h1v1h-1zM11 11h1v1h-1zM17 12h1v1h-1zM19 14h1v1h-1zM7 15h1v1h-1zM19 15h1v1h-1zM19 16h1v1h-1zM8 19h1v1h-1zM9 21h1v1h-1zM12 22h1v1h-1zM16 22h1v1h-1z"/><path fill="#acacac" d="M13 10h2v1h-2zM12 11h1v1h-1zM15 11h1v1h-1zM8 14h1v1h-1zM19 17h1v1h-1zM7 18h1v1h-1zM19 18h1v1h-1zM19 20h1v1h-1zM13 22h1v1h-1zM15 22h1v1h-1z"/><path fill="#aeaeae" d="M13 11h2v1h-2zM10 12h1v1h-1zM16 12h1v1h-1zM9 13h1v1h-1zM18 13h1v1h-1zM8 15h1v1h-1zM7 16h1v1h-1zM7 17h1v1h-1zM19 19h1v1h-1zM9 20h1v1h-1zM14 22h1v1h-1z"/><path fill="#b0b0b0" d="M8 18h1v1h-1zM10 21h1v1h-1z"/><path fill="#b2b2b2" d="M11 12h1v1h-1zM15 12h1v1h-1zM17 13h1v1h-1zM9 14h1v1h-1zM18 14h1v1h-1zM8 16h1v1h-1zM9 19h1v1h-1zM18 21h1v1h-1z"/><path fill="#b4b4b4" d="M12 12h3v1h-3zM18 15h1v1h-1zM18 16h1v1h-1zM8 17h1v1h-1zM11 21h1v1h-1z"/><path fill="#b6b6b6" d="M10 13h1v1h-1zM16 13h1v1h-1zM17 14h1v1h-1zM9 15h1v1h-1zM18 17h1v1h-1z"/><path fill="#b8b8b8" d="M11 13h1v1h-1zM17 15h1v1h-1zM9 16h1v1h-1zM9 18h1v1h-1zM18 18h1v1h-1zM10 20h1v1h-1zM12 21h1v1h-1z"/><path fill="#bababa" d="M12 13h1v1h-1zM15 13h1v1h-1zM10 14h1v1h-1zM16 14h1v1h-1zM17 16h1v1h-1zM9 17h1v1h-1zM10 19h1v1h-1zM18 19h1v1h-1zM18 20h1v1h-1zM13 21h1v1h-1zM16 21h2v1h-2z"/><path fill="#bcbcbc" d="M13 13h2v1h-2zM11 14h1v1h-1zM10 15h1v1h-1zM16 15h1v1h-1zM17 17h1v1h-1zM11 20h1v1h-1zM14 21h2v1h-2z"/><path fill="#bebebe" d="M12 14h1v1h-1zM15 14h1v1h-1zM16 16h1v1h-1zM17 18h1v1h-1zM11 19h1v1h-1zM12 20h1v1h-1z"/><path fill="#c0c0c0" d="M13 14h2v1h-2zM11 15h1v1h-1zM15 15h1v1h-1zM10 16h1v1h-1zM16 17h1v1h-1zM10 18h1v1h-1zM17 19h1v1h-1zM17 20h1v1h-1z"/><path fill="#c2c2c2" d="M12 15h1v1h-1zM10 17h1v1h-1zM11 18h1v1h-1zM16 18h1v1h-1zM12 19h1v1h-1zM13 20h1v1h-1zM16 20h1v1h-1z"/><path fill="#c4c4c4" d="M13 15h2v1h-2zM11 16h1v1h-1zM15 16h1v1h-1zM11 17h1v1h-1zM16 19h1v1h-1zM14 20h2v1h-2z"/><path fill="#c6c6c6" d="M12 16h1v1h-1zM15 17h1v1h-1zM12 18h1v1h-1zM15 18h1v1h-1zM13 19h3v1h-3z"/><path fill="#c8c8c8" d="M13 16h2v1h-2zM12 17h1v1h-1zM13 18h2v1h-2z"/><path fill="#cacaca" d="M13 17h2v1h-2z"/></g><ellipse cx="127.7" cy="672.5" rx="8.0" ry="8.0" fill="url(#b2)"/></g></g>
<circle cx="99.5" cy="710.1" r="62.7" fill="none" stroke="#000" stroke-width="1.3"/><polyline points="87.3,648.8 99.5,637.7 111.7,648.8" fill="none" stroke="#000" stroke-width="1.2" stroke-linejoin="miter"/><path d="M161.4,700.9C161.6,700.7 162.1,700.1 162.7,699.9C163.3,699.7 164.3,699.5 165.0,699.7C165.7,699.9 166.6,700.2 167.1,700.9C167.6,701.6 167.7,702.6 167.8,704.1C168.0,705.6 167.9,707.8 168.0,710.1C168.1,712.4 168.2,715.9 168.3,718.1C168.4,720.4 168.7,722.2 168.6,723.6C168.5,725.0 168.3,725.9 167.7,726.6C167.1,727.3 165.9,727.6 165.0,727.7C164.1,727.8 163.2,727.5 162.5,727.1C161.8,726.8 161.2,725.9 161.0,725.6" fill="#fff" stroke="#000" stroke-width="1.2"/><path d="M37.6,700.9C37.4,700.7 36.9,700.1 36.3,699.9C35.7,699.7 34.7,699.5 34.0,699.7C33.3,699.9 32.4,700.2 31.9,700.9C31.4,701.6 31.4,702.6 31.2,704.1C31.1,705.6 31.1,707.8 31.0,710.1C30.9,712.4 30.8,715.9 30.7,718.1C30.6,720.4 30.3,722.2 30.4,723.6C30.5,725.0 30.7,725.9 31.3,726.6C31.9,727.3 33.1,727.6 34.0,727.7C34.9,727.8 35.8,727.5 36.5,727.1C37.2,726.8 37.8,725.9 38.0,725.6" fill="#fff" stroke="#000" stroke-width="1.2"/>
<g clip-path="url(#c11)"><g filter="url(#jet)"><rect x="172.2" y="639.4" width="141.4" height="141.4" fill="#979797"/><g transform="translate(172,639) scale(5)"><path fill="#565656" d="M3 4h1v1h-1zM2 5h3v1h-3zM1 6h4v1h-4zM2 7h3v1h-3z"/><path fill="#585858" d="M21 2h3v1h-3zM20 3h4v1h-4zM5 6h1v1h-1zM1 7h1v1h-1zM5 7h1v1h-1zM3 8h2v1h-2z"/><path fill="#5a5a5a" d="M20 1h2v1h-2zM20 2h1v1h-1zM3 3h1v1h-1zM19 3h1v1h-1zM4 4h1v1h-1zM19 4h4v1h-4zM5 5h1v1h-1zM2 8h1v1h-1zM5 8h1v1h-1z"/><path fill="#5c5c5c" d="M16 0h5v1h-5zM17 1h3v1h-3zM17 2h3v1h-3zM18 3h1v1h-1zM24 3h1v1h-1zM23 4h1v1h-1zM1 8h1v1h-1z"/><path fill="#5e5e5e" d="M8 0h8v1h-8zM6 1h6v1h-6zM15 1h2v1h-2zM5 2h5v1h-5zM16 2h1v1h-1zM4 3h5v1h-5zM17 3h1v1h-1zM5 4h3v1h-3zM18 4h1v1h-1zM6 5h1v1h-1zM20 5h2v1h-2zM6 6h1v1h-1zM6 7h1v1h-1zM0 8h1v1h-1zM0 9h5v1h-5z"/><path fill="#606060" d="M12 1h3v1h-3zM10 2h6v1h-6zM9 3h2v1h-2zM16 3h1v1h-1zM8 4h2v1h-2zM17 4h1v1h-1zM24 4h1v1h-1zM7 5h2v1h-2zM19 5h1v1h-1zM22 5h1v1h-1zM7 6h1v1h-1zM0 10h3v1h-3z"/><path fill="#626262" d="M11 3h1v1h-1zM15 3h1v1h-1zM10 4h1v1h-1zM16 4h1v1h-1zM25 4h1v1h-1zM23 5h2v1h-2zM6 8h1v1h-1zM5 9h1v1h-1zM3 10h1v1h-1zM0 11h2v1h-2z"/><path fill="#646464" d="M12 3h3v1h-3zM11 4h1v1h-1zM9 5h1v1h-1zM18 5h1v1h-1zM25 5h2v1h-2zM8 6h1v1h-1zM23 6h4v1h-4zM7 7h1v1h-1zM4 10h1v1h-1zM2 11h1v1h-1z"/><path fill="#666666" d="M12 4h1v1h-1zM15 4h1v1h-1zM10 5h1v1h-1zM23 7h3v1h-3zM3 11h1v1h-1z"/><path fill="#686868" d="M13 4h2v1h-2zM17 5h1v1h-1zM22 6h1v1h-1zM8 7h1v1h-1zM26 7h1v1h-1zM7 8h1v1h-1zM4 11h1v1h-1z"/><path fill="#6a6a6a" d="M11 5h1v1h-1zM16 5h1v1h-1zM5 10h1v1h-1z"/><path fill="#6c6c6c" d="M12 5h1v1h-1zM9 6h1v1h-1zM21 6h1v1h-1zM22 7h1v1h-1zM23 8h2v1h-2zM0 12h2v1h-2z"/><path fill="#6e6e6e" d="M15 5h1v1h-1zM20 6h1v1h-1zM27 7h1v1h-1zM8 8h1v1h-1zM25 8h1v1h-1zM6 9h1v1h-1zM2 12h1v1h-1z"/><path fill="#707070" d="M13 5h2v1h-2zM22 8h1v1h-1zM5 11h1v1h-1z"/><path fill="#727272" d="M10 6h1v1h-1zM19 6h1v1h-1zM9 7h1v1h-1zM26 8h1v1h-1zM3 12h1v1h-1z"/><path fill="#767676" d="M11 6h1v1h-1zM21 7h1v1h-1zM27 8h1v1h-1zM4 12h1v1h-1zM0 13h1v1h-1z"/><path fill="#787878" d="M7 9h1v1h-1zM23 9h2v1h-2zM1 13h1v1h-1z"/><path fill="#7a7a7a" d="M12 6h1v1h-1zM18 6h1v1h-1zM9 8h1v1h-1zM25 9h4v1h-4zM6 10h1v1h-1zM2 13h1v1h-1z"/><path fill="#7c7c7c" d="M20 7h1v1h-1zM21 8h1v1h-1zM26 10h3v1h-3z"/><path fill="#7e7e7e" d="M10 7h1v1h-1zM8 9h1v1h-1zM22 9h1v1h-1zM25 10h1v1h-1zM27 11h2v1h-2zM5 12h1v1h-1zM0 14h2v1h-2z"/><path fill="#808080" d="M13 6h2v1h-2zM17 6h1v1h-1zM26 11h1v1h-1zM3 13h1v1h-1z"/><path fill="#828282" d="M15 6h2v1h-2zM11 7h1v1h-1zM19 7h1v1h-1zM24 10h1v1h-1zM6 11h1v1h-1zM25 11h1v1h-1zM2 14h1v1h-1z"/><path fill="#848484" d="M20 8h1v1h-1zM23 10h1v1h-1z"/><path fill="#868686" d="M10 8h1v1h-1zM7 10h1v1h-1zM24 11h1v1h-1zM26 12h3v1h-3zM4 13h1v1h-1z"/><path fill="#888888" d="M12 7h1v1h-1zM21 9h1v1h-1zM3 14h1v1h-1zM0 15h1v1h-1z"/><path fill="#8a8a8a" d="M11 8h1v1h-1zM19 8h1v1h-1zM9 9h1v1h-1zM23 11h1v1h-1zM25 12h1v1h-1zM1 15h1v1h-1z"/><path fill="#8c8c8c" d="M13 7h1v1h-1zM22 10h1v1h-1z"/><path fill="#8e8e8e" d="M18 7h1v1h-1zM8 10h1v1h-1zM24 12h1v1h-1zM28 13h1v1h-1zM2 15h1v1h-1z"/><path fill="#909090" d="M14 7h1v1h-1zM12 8h1v1h-1zM20 9h1v1h-1zM7 11h1v1h-1zM6 12h1v1h-1zM5 13h1v1h-1zM26 13h2v1h-2zM4 14h1v1h-1z"/><path fill="#929292" d="M15 7h1v1h-1zM22 11h1v1h-1zM3 15h1v1h-1z"/><path fill="#949494" d="M17 7h1v1h-1zM23 12h1v1h-1zM25 13h1v1h-1zM27 14h2v1h-2z"/><path fill="#969696" d="M16 7h1v1h-1zM13 8h1v1h-1zM18 8h1v1h-1zM10 9h1v1h-1zM19 9h1v1h-1zM21 10h1v1h-1zM26 14h1v1h-1z"/><path fill="#989898" d="M14 8h1v1h-1zM8 11h1v1h-1zM24 13h1v1h-1zM0 16h1v1h-1z"/><path fill="#9a9a9a" d="M15 8h1v1h-1zM11 9h1v1h-1zM9 10h1v1h-1zM5 14h1v1h-1zM25 14h1v1h-1zM4 15h1v1h-1zM1 16h1v1h-1z"/><path fill="#9c9c9c" d="M20 10h1v1h-1zM2 16h1v1h-1z"/><path fill="#9e9e9e" d="M16 8h2v1h-2zM12 9h1v1h-1zM21 11h1v1h-1zM22 12h1v1h-1zM23 13h1v1h-1zM24 14h1v1h-1zM27 15h2v1h-2z"/><path fill="#a0a0a0" d="M18 9h1v1h-1zM7 12h1v1h-1zM26 15h1v1h-1zM0 17h1v1h-1z"/><path fill="#a2a2a2" d="M19 10h1v1h-1zM6 13h1v1h-1zM25 15h1v1h-1zM3 16h1v1h-1zM1 17h1v1h-1z"/><path fill="#a4a4a4" d="M13 9h1v1h-1zM9 11h1v1h-1zM20 11h1v1h-1zM2 17h1v1h-1z"/><path fill="#a6a6a6" d="M14 9h1v1h-1zM17 9h1v1h-1zM10 10h1v1h-1zM23 14h1v1h-1zM5 15h1v1h-1z"/><path fill="#a8a8a8" d="M15 9h2v1h-2zM8 12h1v1h-1zM24 15h1v1h-1zM0 18h1v1h-1z"/><path fill="#aaaaaa" d="M11 10h1v1h-1zM18 10h1v1h-1zM19 11h1v1h-1zM22 13h1v1h-1zM4 16h1v1h-1zM27 16h2v1h-2zM3 17h1v1h-1zM1 18h1v1h-1z"/><path fill="#acacac" d="M21 12h1v1h-1zM6 14h1v1h-1zM26 16h1v1h-1zM2 18h1v1h-1z"/><path fill="#b0b0b0" d="M12 10h1v1h-1zM17 10h1v1h-1zM10 11h1v1h-1zM23 15h1v1h-1zM25 16h1v1h-1zM4 17h1v1h-1zM27 17h2v1h-2zM3 18h1v1h-1zM0 19h2v1h-2z"/><path fill="#b2b2b2" d="M16 10h1v1h-1zM18 11h1v1h-1zM7 13h1v1h-1zM22 14h1v1h-1zM26 17h1v1h-1zM2 19h1v1h-1zM0 20h1v1h-1z"/><path fill="#b4b4b4" d="M13 10h1v1h-1zM15 10h1v1h-1zM20 12h1v1h-1zM5 16h1v1h-1zM27 18h2v1h-2zM1 20h1v1h-1z"/><path fill="#b6b6b6" d="M14 10h1v1h-1zM11 11h1v1h-1zM9 12h1v1h-1zM24 16h1v1h-1zM25 17h1v1h-1zM4 18h1v1h-1zM26 18h1v1h-1zM1 21h1v1h-1z"/><path fill="#b8b8b8" d="M17 11h1v1h-1zM6 15h1v1h-1zM3 19h1v1h-1zM2 20h1v1h-1z"/><path fill="#bababa" d="M12 11h1v1h-1zM19 12h1v1h-1zM25 18h1v1h-1zM27 19h1v1h-1zM2 21h1v1h-1z"/><path fill="#bcbcbc" d="M16 11h1v1h-1zM8 13h1v1h-1zM21 13h1v1h-1zM7 14h1v1h-1zM22 15h1v1h-1zM5 17h1v1h-1zM24 17h1v1h-1zM26 19h1v1h-1zM3 20h1v1h-1zM27 20h1v1h-1z"/><path fill="#bebebe" d="M13 11h1v1h-1zM15 11h1v1h-1zM23 16h1v1h-1zM4 19h1v1h-1zM25 19h1v1h-1zM26 20h1v1h-1zM2 22h1v1h-1z"/><path fill="#c0c0c0" d="M14 11h1v1h-1zM5 18h1v1h-1zM24 18h1v1h-1zM3 21h1v1h-1zM26 21h1v1h-1z"/><path fill="#c2c2c2" d="M25 20h1v1h-1zM26 22h1v1h-1z"/><path fill="#c4c4c4" d="M8 14h1v1h-1zM21 14h1v1h-1zM23 17h1v1h-1zM24 19h1v1h-1zM4 20h1v1h-1zM25 21h1v1h-1zM3 22h1v1h-1zM2 23h1v1h-1z"/><path fill="#c6c6c6" d="M10 12h1v1h-1zM18 12h1v1h-1zM20 13h1v1h-1zM7 15h1v1h-1zM6 16h1v1h-1zM23 18h1v1h-1zM24 20h1v1h-1zM9 28h1v1h-1zM18 28h1v1h-1z"/><path fill="#c8c8c8" d="M5 19h1v1h-1zM4 21h1v1h-1zM25 22h1v1h-1zM8 27h3v1h-3zM17 27h3v1h-3zM10 28h1v1h-1zM17 28h1v1h-1z"/><path fill="#cacaca" d="M22 16h1v1h-1zM23 19h1v1h-1zM24 21h1v1h-1zM4 22h1v1h-1zM3 23h1v1h-1zM3 24h1v1h-1zM8 26h3v1h-3zM17 26h3v1h-3zM7 27h1v1h-1zM11 27h1v1h-1zM20 27h1v1h-1zM11 28h1v1h-1z"/><path fill="#cccccc" d="M11 12h1v1h-1zM9 13h1v1h-1zM5 20h1v1h-1zM23 20h1v1h-1zM24 22h1v1h-1zM4 23h2v1h-2zM25 23h1v1h-1zM4 24h1v1h-1zM4 25h1v1h-1zM11 26h1v1h-1zM16 27h1v1h-1zM16 28h1v1h-1z"/><path fill="#cecece" d="M17 12h1v1h-1zM21 15h1v1h-1zM6 17h1v1h-1zM5 21h1v1h-1zM23 21h1v1h-1zM5 22h1v1h-1zM24 23h1v1h-1zM5 24h1v1h-1zM5 25h1v1h-1zM9 25h1v1h-1zM18 25h1v1h-1zM5 26h1v1h-1zM7 26h1v1h-1zM16 26h1v1h-1zM20 26h1v1h-1z"/><path fill="#d0d0d0" d="M19 13h1v1h-1zM20 14h1v1h-1zM8 15h1v1h-1zM22 17h1v1h-1zM23 22h1v1h-1zM6 23h1v1h-1zM23 23h1v1h-1zM6 24h1v1h-1zM23 24h2v1h-2zM6 25h3v1h-3zM10 25h1v1h-1zM17 25h1v1h-1zM19 25h1v1h-1zM23 25h1v1h-1zM6 26h1v1h-1zM12 28h1v1h-1z"/><path fill="#d2d2d2" d="M12 12h1v1h-1zM16 12h1v1h-1zM22 18h1v1h-1zM6 22h1v1h-1zM22 22h1v1h-1zM7 23h1v1h-1zM22 23h1v1h-1zM7 24h1v1h-1zM22 24h1v1h-1zM20 25h1v1h-1zM22 25h1v1h-1zM21 26h2v1h-2zM12 27h1v1h-1z"/><path fill="#d4d4d4" d="M6 18h1v1h-1zM22 19h1v1h-1zM22 21h1v1h-1zM21 23h1v1h-1zM8 24h1v1h-1zM20 24h2v1h-2zM11 25h1v1h-1zM21 25h1v1h-1zM12 26h1v1h-1zM15 27h1v1h-1zM15 28h1v1h-1z"/><path fill="#d6d6d6" d="M13 12h1v1h-1zM15 12h1v1h-1zM7 16h1v1h-1zM22 20h1v1h-1zM6 21h1v1h-1zM7 22h1v1h-1zM21 22h1v1h-1zM8 23h1v1h-1zM20 23h1v1h-1zM9 24h1v1h-1zM18 24h2v1h-2zM16 25h1v1h-1zM15 26h1v1h-1zM13 27h2v1h-2zM13 28h2v1h-2z"/><path fill="#d8d8d8" d="M14 12h1v1h-1zM9 14h1v1h-1zM19 14h1v1h-1zM20 15h1v1h-1zM10 24h1v1h-1zM13 26h2v1h-2z"/><path fill="#dadada" d="M21 16h1v1h-1zM6 19h1v1h-1zM6 20h1v1h-1zM19 23h1v1h-1zM17 24h1v1h-1zM12 25h1v1h-1z"/><path fill="#dcdcdc" d="M8 22h1v1h-1zM20 22h1v1h-1zM9 23h1v1h-1zM11 24h1v1h-1zM13 25h1v1h-1zM15 25h1v1h-1z"/><path fill="#dedede" d="M10 13h1v1h-1zM18 13h1v1h-1zM7 21h1v1h-1zM21 21h1v1h-1zM16 24h1v1h-1zM14 25h1v1h-1z"/><path fill="#e0e0e0" d="M8 16h1v1h-1zM7 17h1v1h-1zM21 17h1v1h-1zM18 23h1v1h-1z"/><path fill="#e2e2e2" d="M19 15h1v1h-1zM19 22h1v1h-1zM10 23h1v1h-1zM12 24h1v1h-1z"/><path fill="#e4e4e4" d="M9 15h1v1h-1zM20 16h1v1h-1zM21 18h1v1h-1zM21 20h1v1h-1zM17 23h1v1h-1zM15 24h1v1h-1z"/><path fill="#e6e6e6" d="M11 13h1v1h-1zM17 13h1v1h-1zM7 18h1v1h-1zM21 19h1v1h-1zM7 20h1v1h-1zM20 21h1v1h-1zM9 22h1v1h-1zM11 23h1v1h-1zM13 24h2v1h-2z"/><path fill="#e8e8e8" d="M18 14h1v1h-1zM7 19h1v1h-1zM8 21h1v1h-1zM16 23h1v1h-1z"/><path fill="#eaeaea" d="M8 17h1v1h-1zM18 22h1v1h-1z"/><path fill="#ececec" d="M16 13h1v1h-1zM10 14h1v1h-1zM20 17h1v1h-1zM12 23h1v1h-1z"/><path fill="#eeeeee" d="M12 13h1v1h-1zM19 16h1v1h-1zM20 20h1v1h-1zM19 21h1v1h-1zM10 22h1v1h-1zM15 23h1v1h-1z"/><path fill="#f0f0f0" d="M8 18h1v1h-1zM20 18h1v1h-1zM8 20h1v1h-1zM13 23h2v1h-2z"/><path fill="#f2f2f2" d="M13 13h3v1h-3zM18 15h1v1h-1zM9 16h1v1h-1zM8 19h1v1h-1zM20 19h1v1h-1zM17 22h1v1h-1z"/><path fill="#f4f4f4" d="M11 14h1v1h-1zM17 14h1v1h-1zM9 21h1v1h-1zM11 22h1v1h-1z"/><path fill="#f6f6f6" d="M10 15h1v1h-1zM19 17h1v1h-1zM19 20h1v1h-1zM16 22h1v1h-1z"/><path fill="#f8f8f8" d="M9 17h1v1h-1zM19 18h1v1h-1zM12 22h1v1h-1z"/><path fill="#fafafa" d="M16 14h1v1h-1zM19 19h1v1h-1zM18 21h1v1h-1zM15 22h1v1h-1z"/><path fill="#fcfcfc" d="M12 14h1v1h-1zM18 16h1v1h-1zM9 18h1v1h-1zM9 19h1v1h-1zM9 20h1v1h-1zM13 22h2v1h-2z"/><path fill="#fefefe" d="M13 14h3v1h-3zM11 15h1v1h-1zM17 15h1v1h-1z"/><path fill="#ffffff" d="M12 15h5v1h-5zM10 16h8v1h-8zM10 17h9v1h-9zM10 18h9v1h-9zM10 19h9v1h-9zM10 20h9v1h-9zM10 21h8v1h-8z"/></g></g></g>
<g fill="#2a2a78"><rect x="233.9" y="724.8" width="1.1" height="1.1"/><rect x="236.0" y="723.8" width="1.1" height="1.1"/><rect x="239.9" y="722.9" width="1.1" height="1.1"/><rect x="244.0" y="722.9" width="1.1" height="1.1"/><rect x="231.9" y="726.8" width="1.1" height="1.1"/><rect x="229.8" y="728.9" width="1.1" height="1.1"/><rect x="240.8" y="728.9" width="1.1" height="1.1"/><rect x="244.0" y="727.9" width="1.1" height="1.1"/><rect x="247.0" y="726.8" width="1.1" height="1.1"/><rect x="227.9" y="732.7" width="1.1" height="1.1"/><rect x="238.0" y="732.0" width="1.1" height="1.1"/><rect x="234.8" y="733.9" width="1.1" height="1.1"/><rect x="232.9" y="734.8" width="1.1" height="1.1"/><rect x="242.8" y="734.8" width="1.1" height="1.1"/><rect x="247.0" y="734.8" width="1.1" height="1.1"/><rect x="225.9" y="736.9" width="1.1" height="1.1"/><rect x="230.8" y="737.8" width="1.1" height="1.1"/><rect x="240.8" y="737.8" width="1.1" height="1.1"/><rect x="251.0" y="737.8" width="1.1" height="1.1"/><rect x="255.8" y="739.0" width="1.1" height="1.1"/><rect x="248.0" y="739.9" width="1.1" height="1.1"/><rect x="245.9" y="740.9" width="1.1" height="1.1"/><rect x="238.0" y="740.9" width="1.1" height="1.1"/><rect x="260.8" y="740.9" width="1.1" height="1.1"/><rect x="225.9" y="741.9" width="1.1" height="1.1"/><rect x="229.8" y="741.9" width="1.1" height="1.1"/><rect x="234.8" y="742.8" width="1.1" height="1.1"/><rect x="242.8" y="742.8" width="1.1" height="1.1"/><rect x="254.8" y="742.8" width="1.1" height="1.1"/><rect x="252.9" y="744.9" width="1.1" height="1.1"/><rect x="259.8" y="745.9" width="1.1" height="1.1"/><rect x="232.9" y="746.9" width="1.1" height="1.1"/><rect x="239.9" y="746.9" width="1.1" height="1.1"/><rect x="249.9" y="746.9" width="1.1" height="1.1"/></g>
<circle cx="242.9" cy="710.1" r="62.7" fill="none" stroke="#000" stroke-width="1.3"/><polyline points="230.7,648.8 242.9,637.7 255.1,648.8" fill="none" stroke="#000" stroke-width="1.2" stroke-linejoin="miter"/><path d="M304.8,700.9C305.0,700.7 305.5,700.1 306.1,699.9C306.7,699.7 307.7,699.5 308.4,699.7C309.1,699.9 310.0,700.2 310.5,700.9C311.0,701.6 311.1,702.6 311.2,704.1C311.3,705.6 311.3,707.8 311.4,710.1C311.5,712.4 311.6,715.9 311.7,718.1C311.8,720.4 312.1,722.2 312.0,723.6C311.9,725.0 311.7,725.9 311.1,726.6C310.5,727.3 309.3,727.6 308.4,727.7C307.5,727.8 306.6,727.5 305.9,727.1C305.2,726.8 304.6,725.9 304.4,725.6" fill="#fff" stroke="#000" stroke-width="1.2"/><path d="M181.0,700.9C180.8,700.7 180.3,700.1 179.7,699.9C179.1,699.7 178.1,699.5 177.4,699.7C176.7,699.9 175.8,700.2 175.3,700.9C174.8,701.6 174.8,702.6 174.6,704.1C174.5,705.6 174.5,707.8 174.4,710.1C174.3,712.4 174.2,715.9 174.1,718.1C174.0,720.4 173.7,722.2 173.8,723.6C173.9,725.0 174.1,725.9 174.7,726.6C175.3,727.3 176.5,727.6 177.4,727.7C178.3,727.8 179.2,727.5 179.9,727.1C180.6,726.8 181.2,725.9 181.4,725.6" fill="#fff" stroke="#000" stroke-width="1.2"/>
<g clip-path="url(#c12)"><g filter="url(#jet)"><rect x="315.5" y="639.4" width="141.4" height="141.4" fill="#808080"/><g transform="translate(315,639) scale(5)"><path fill="#4c4c4c" d="M4 6h3v1h-3zM5 7h2v1h-2z"/><path fill="#4e4e4e" d="M3 4h1v1h-1zM2 5h4v1h-4zM1 6h3v1h-3zM7 6h1v1h-1zM2 7h3v1h-3zM7 7h1v1h-1zM4 8h4v1h-4z"/><path fill="#505050" d="M4 4h2v1h-2zM6 5h1v1h-1zM1 7h1v1h-1zM8 7h1v1h-1zM3 8h1v1h-1z"/><path fill="#525252" d="M4 3h2v1h-2zM6 4h1v1h-1zM7 5h1v1h-1zM8 6h1v1h-1zM1 8h2v1h-2zM8 8h1v1h-1zM4 9h3v1h-3z"/><path fill="#545454" d="M5 2h2v1h-2zM6 3h1v1h-1zM7 4h1v1h-1zM8 5h1v1h-1zM0 8h1v1h-1zM0 9h4v1h-4zM7 9h1v1h-1z"/><path fill="#565656" d="M7 3h1v1h-1zM8 4h1v1h-1zM0 10h6v1h-6zM0 11h3v1h-3z"/><path fill="#585858" d="M6 1h1v1h-1zM7 2h1v1h-1zM9 7h1v1h-1zM3 11h2v1h-2zM0 12h2v1h-2z"/><path fill="#5a5a5a" d="M8 3h1v1h-1zM9 6h1v1h-1zM8 9h1v1h-1zM6 10h1v1h-1zM5 11h1v1h-1zM2 12h2v1h-2z"/><path fill="#5c5c5c" d="M9 5h1v1h-1zM9 8h1v1h-1zM4 12h1v1h-1zM0 13h2v1h-2z"/><path fill="#5e5e5e" d="M7 1h1v1h-1zM9 4h1v1h-1zM7 10h1v1h-1zM2 13h1v1h-1z"/><path fill="#606060" d="M8 2h1v1h-1zM10 6h1v1h-1zM10 7h1v1h-1zM6 11h1v1h-1zM3 13h1v1h-1zM0 14h2v1h-2z"/><path fill="#626262" d="M9 3h1v1h-1zM10 4h1v1h-1zM10 5h1v1h-1zM11 6h1v1h-1zM13 7h1v1h-1zM5 12h1v1h-1zM2 14h1v1h-1z"/><path fill="#646464" d="M8 1h1v1h-1zM9 2h1v1h-1zM10 3h1v1h-1zM11 4h1v1h-1zM11 5h1v1h-1zM12 6h2v1h-2zM11 7h2v1h-2zM14 7h1v1h-1zM10 8h1v1h-1zM8 10h1v1h-1zM4 13h1v1h-1zM3 14h1v1h-1z"/><path fill="#666666" d="M8 0h1v1h-1zM9 1h1v1h-1zM10 2h1v1h-1zM11 3h1v1h-1zM12 4h1v1h-1zM12 5h1v1h-1zM14 6h1v1h-1zM9 9h1v1h-1zM7 11h1v1h-1z"/><path fill="#686868" d="M9 0h3v1h-3zM10 1h3v1h-3zM11 2h2v1h-2zM12 3h1v1h-1zM13 5h1v1h-1zM11 8h2v1h-2zM4 14h1v1h-1z"/><path fill="#6a6a6a" d="M12 0h3v1h-3zM13 1h2v1h-2zM13 2h2v1h-2zM13 3h2v1h-2zM13 4h2v1h-2zM14 5h1v1h-1zM15 6h1v1h-1zM15 7h1v1h-1zM13 8h2v1h-2zM5 13h1v1h-1zM0 15h2v1h-2z"/><path fill="#6c6c6c" d="M15 0h1v1h-1zM15 1h1v1h-1zM8 11h1v1h-1zM6 12h1v1h-1z"/><path fill="#6e6e6e" d="M15 2h1v1h-1zM15 3h1v1h-1zM15 4h1v1h-1zM15 5h1v1h-1zM2 15h1v1h-1z"/><path fill="#707070" d="M15 8h1v1h-1z"/><path fill="#727272" d="M16 0h1v1h-1zM16 1h1v1h-1zM16 2h1v1h-1zM16 3h1v1h-1zM16 6h1v1h-1zM16 7h1v1h-1zM10 9h1v1h-1zM9 10h1v1h-1zM5 14h1v1h-1zM3 15h1v1h-1z"/><path fill="#747474" d="M16 4h1v1h-1zM16 5h1v1h-1z"/><path fill="#767676" d="M17 0h3v1h-3zM17 1h2v1h-2zM17 2h2v1h-2zM17 3h1v1h-1zM17 4h1v1h-1zM17 5h1v1h-1zM17 6h1v1h-1zM11 9h1v1h-1zM7 12h1v1h-1z"/><path fill="#787878" d="M20 0h1v1h-1zM19 1h1v1h-1zM19 2h1v1h-1zM18 3h1v1h-1zM18 4h1v1h-1zM17 7h1v1h-1zM16 8h1v1h-1zM4 15h1v1h-1z"/><path fill="#7a7a7a" d="M20 1h1v1h-1zM18 5h1v1h-1zM6 13h1v1h-1zM0 16h1v1h-1z"/><path fill="#7c7c7c" d="M20 2h1v1h-1zM19 3h1v1h-1zM18 6h1v1h-1zM17 8h1v1h-1zM12 9h1v1h-1zM9 11h1v1h-1zM1 16h1v1h-1z"/><path fill="#7e7e7e" d="M21 1h1v1h-1zM19 4h1v1h-1zM18 7h1v1h-1zM8 12h1v1h-1zM2 16h1v1h-1z"/><path fill="#808080" d="M21 2h1v1h-1zM20 3h1v1h-1zM20 4h1v1h-1zM19 5h1v1h-1zM10 10h1v1h-1z"/><path fill="#828282" d="M22 2h2v1h-2zM21 3h4v1h-4zM21 4h5v1h-5zM20 5h1v1h-1zM23 5h4v1h-4zM23 6h4v1h-4zM23 7h5v1h-5zM18 8h1v1h-1zM13 9h1v1h-1zM5 15h1v1h-1z"/><path fill="#848484" d="M21 5h2v1h-2zM19 6h1v1h-1zM22 6h1v1h-1zM23 8h5v1h-5zM14 9h1v1h-1zM26 9h3v1h-3zM27 10h2v1h-2zM6 14h1v1h-1zM3 16h1v1h-1zM0 17h1v1h-1z"/><path fill="#868686" d="M19 7h1v1h-1zM22 7h1v1h-1zM22 8h1v1h-1zM15 9h1v1h-1zM23 9h3v1h-3zM11 10h1v1h-1zM25 10h2v1h-2zM26 11h3v1h-3zM1 17h1v1h-1z"/><path fill="#888888" d="M20 6h2v1h-2zM24 10h1v1h-1zM25 11h1v1h-1zM2 17h1v1h-1z"/><path fill="#8a8a8a" d="M20 7h2v1h-2zM19 8h1v1h-1zM16 9h1v1h-1zM22 9h1v1h-1zM23 10h1v1h-1zM10 11h1v1h-1zM24 11h1v1h-1zM27 12h2v1h-2zM7 13h1v1h-1z"/><path fill="#8c8c8c" d="M20 8h2v1h-2zM17 9h2v1h-2zM23 11h1v1h-1zM26 12h1v1h-1zM4 16h1v1h-1z"/><path fill="#8e8e8e" d="M21 9h1v1h-1zM22 10h1v1h-1zM25 12h1v1h-1zM0 18h1v1h-1z"/><path fill="#909090" d="M19 9h2v1h-2zM12 10h1v1h-1zM22 11h1v1h-1zM9 12h1v1h-1zM24 12h1v1h-1zM27 13h2v1h-2zM3 17h1v1h-1zM1 18h1v1h-1z"/><path fill="#929292" d="M21 10h1v1h-1zM11 11h1v1h-1zM26 13h1v1h-1z"/><path fill="#949494" d="M20 10h1v1h-1zM23 12h1v1h-1zM8 13h1v1h-1zM25 13h1v1h-1zM7 14h1v1h-1zM27 14h2v1h-2zM6 15h1v1h-1zM2 18h1v1h-1z"/><path fill="#969696" d="M19 10h1v1h-1zM21 11h1v1h-1zM26 14h1v1h-1z"/><path fill="#989898" d="M24 13h1v1h-1zM25 14h1v1h-1zM5 16h1v1h-1zM4 17h1v1h-1z"/><path fill="#9a9a9a" d="M13 10h1v1h-1zM18 10h1v1h-1zM20 11h1v1h-1zM22 12h1v1h-1zM27 15h2v1h-2zM3 18h1v1h-1z"/><path fill="#9c9c9c" d="M16 10h2v1h-2zM12 11h1v1h-1zM19 11h1v1h-1zM23 13h1v1h-1zM24 14h1v1h-1zM26 15h1v1h-1zM0 19h1v1h-1z"/><path fill="#9e9e9e" d="M14 10h2v1h-2zM8 14h1v1h-1zM25 15h1v1h-1zM1 19h1v1h-1z"/><path fill="#a0a0a0" d="M10 12h1v1h-1zM23 14h1v1h-1z"/><path fill="#a2a2a2" d="M18 11h1v1h-1zM21 12h1v1h-1zM24 15h1v1h-1zM27 16h2v1h-2zM4 18h1v1h-1zM2 19h1v1h-1z"/><path fill="#a4a4a4" d="M22 13h1v1h-1zM26 16h1v1h-1zM5 17h1v1h-1zM0 20h1v1h-1z"/><path fill="#a6a6a6" d="M17 11h1v1h-1zM7 15h1v1h-1zM25 16h1v1h-1zM1 20h1v1h-1z"/><path fill="#a8a8a8" d="M16 11h1v1h-1zM20 12h1v1h-1zM9 13h1v1h-1zM23 15h1v1h-1zM27 17h2v1h-2zM3 19h1v1h-1zM1 21h1v1h-1z"/><path fill="#aaaaaa" d="M13 11h1v1h-1zM11 12h1v1h-1zM22 14h1v1h-1zM26 17h1v1h-1zM2 20h1v1h-1z"/><path fill="#acacac" d="M15 11h1v1h-1zM6 16h1v1h-1zM24 16h1v1h-1zM25 17h1v1h-1zM5 18h1v1h-1z"/><path fill="#aeaeae" d="M14 11h1v1h-1zM19 12h1v1h-1zM27 18h2v1h-2zM2 21h1v1h-1z"/><path fill="#b0b0b0" d="M8 15h1v1h-1zM23 16h1v1h-1zM24 17h1v1h-1zM26 18h1v1h-1zM4 19h1v1h-1zM3 20h1v1h-1z"/><path fill="#b2b2b2" d="M21 13h1v1h-1zM9 14h1v1h-1zM22 15h1v1h-1z"/><path fill="#b4b4b4" d="M12 12h1v1h-1zM25 18h1v1h-1zM2 22h1v1h-1z"/><path fill="#b6b6b6" d="M18 12h1v1h-1zM23 17h1v1h-1zM24 18h1v1h-1zM3 21h1v1h-1z"/><path fill="#b8b8b8" d="M6 17h1v1h-1zM26 19h2v1h-2zM4 20h1v1h-1z"/><path fill="#bababa" d="M17 12h1v1h-1zM20 13h1v1h-1zM21 14h1v1h-1zM22 16h1v1h-1zM5 19h1v1h-1z"/><path fill="#bcbcbc" d="M16 12h1v1h-1zM10 13h1v1h-1zM23 18h1v1h-1zM25 19h1v1h-1zM27 20h1v1h-1z"/><path fill="#bebebe" d="M13 12h1v1h-1zM7 16h1v1h-1zM24 19h1v1h-1zM26 20h1v1h-1zM27 21h1v1h-1zM3 22h1v1h-1zM2 23h1v1h-1z"/><path fill="#c0c0c0" d="M15 12h1v1h-1zM19 13h1v1h-1zM9 15h1v1h-1zM21 15h1v1h-1zM22 17h1v1h-1zM6 18h1v1h-1zM25 20h1v1h-1zM4 21h1v1h-1zM26 21h1v1h-1z"/><path fill="#c2c2c2" d="M14 12h1v1h-1zM20 14h1v1h-1zM5 20h1v1h-1zM25 21h1v1h-1zM26 22h1v1h-1z"/><path fill="#c4c4c4" d="M11 13h1v1h-1zM23 19h1v1h-1zM24 20h1v1h-1z"/><path fill="#c6c6c6" d="M8 16h1v1h-1zM22 18h1v1h-1z"/><path fill="#c8c8c8" d="M10 14h1v1h-1zM19 14h1v1h-1zM20 15h1v1h-1zM21 16h1v1h-1zM23 20h1v1h-1zM5 21h1v1h-1zM24 21h1v1h-1zM4 22h1v1h-1zM25 22h1v1h-1zM3 23h1v1h-1z"/><path fill="#cacaca" d="M7 17h1v1h-1zM6 19h1v1h-1z"/><path fill="#cccccc" d="M18 13h1v1h-1zM22 19h1v1h-1z"/><path fill="#cecece" d="M12 13h1v1h-1zM21 17h1v1h-1zM23 21h1v1h-1zM5 22h1v1h-1zM24 22h1v1h-1zM4 23h1v1h-1zM3 24h1v1h-1z"/><path fill="#d0d0d0" d="M11 14h1v1h-1zM19 15h1v1h-1zM20 16h1v1h-1zM8 17h1v1h-1zM7 18h1v1h-1zM6 20h1v1h-1zM5 23h1v1h-1zM25 23h1v1h-1zM4 24h1v1h-1zM4 25h1v1h-1zM8 27h3v1h-3zM9 28h2v1h-2z"/><path fill="#d2d2d2" d="M17 13h1v1h-1zM10 15h1v1h-1zM9 16h1v1h-1zM21 18h1v1h-1zM22 20h1v1h-1zM6 21h1v1h-1zM6 22h1v1h-1zM6 23h1v1h-1zM5 24h2v1h-2zM5 25h1v1h-1zM5 26h1v1h-1zM8 26h3v1h-3zM7 27h1v1h-1zM11 27h1v1h-1zM11 28h1v1h-1z"/><path fill="#d4d4d4" d="M16 13h1v1h-1zM18 14h1v1h-1zM20 17h1v1h-1zM23 22h1v1h-1zM7 23h1v1h-1zM7 24h1v1h-1zM6 25h5v1h-5zM6 26h2v1h-2zM11 26h1v1h-1z"/><path fill="#d6d6d6" d="M19 16h1v1h-1zM8 18h1v1h-1zM7 19h1v1h-1zM22 21h1v1h-1zM7 22h1v1h-1zM8 23h1v1h-1zM24 23h1v1h-1zM8 24h1v1h-1zM11 25h1v1h-1zM12 27h1v1h-1zM12 28h1v1h-1z"/><path fill="#d8d8d8" d="M13 13h1v1h-1zM7 21h1v1h-1zM8 22h1v1h-1zM22 22h1v1h-1zM23 23h1v1h-1zM9 24h2v1h-2zM24 24h1v1h-1zM12 26h1v1h-1zM13 27h1v1h-1zM13 28h1v1h-1z"/><path fill="#dadada" d="M14 13h2v1h-2zM12 14h1v1h-1zM11 15h1v1h-1zM18 15h1v1h-1zM9 17h1v1h-1zM20 18h1v1h-1zM21 19h1v1h-1zM7 20h1v1h-1zM9 23h1v1h-1zM22 23h1v1h-1zM11 24h1v1h-1zM22 24h2v1h-2zM12 25h1v1h-1zM22 25h2v1h-2zM13 26h3v1h-3zM17 26h3v1h-3zM22 26h1v1h-1zM14 27h7v1h-7zM14 28h5v1h-5z"/><path fill="#dcdcdc" d="M17 14h1v1h-1zM19 17h1v1h-1zM8 19h1v1h-1zM8 21h1v1h-1zM21 22h1v1h-1zM21 23h1v1h-1zM21 24h1v1h-1zM13 25h1v1h-1zM18 25h4v1h-4zM16 26h1v1h-1zM20 26h2v1h-2zM21 27h1v1h-1z"/><path fill="#dedede" d="M10 16h1v1h-1zM9 18h1v1h-1zM8 20h1v1h-1zM21 20h1v1h-1zM21 21h1v1h-1zM9 22h1v1h-1zM10 23h1v1h-1zM20 23h1v1h-1zM12 24h1v1h-1zM19 24h2v1h-2zM14 25h4v1h-4z"/><path fill="#e0e0e0" d="M16 14h1v1h-1zM19 18h1v1h-1zM20 22h1v1h-1zM11 23h1v1h-1zM19 23h1v1h-1zM13 24h1v1h-1zM18 24h1v1h-1z"/><path fill="#e2e2e2" d="M13 14h1v1h-1zM12 15h1v1h-1zM17 15h1v1h-1zM18 16h1v1h-1zM9 19h1v1h-1zM20 19h1v1h-1zM9 21h1v1h-1zM10 22h1v1h-1zM12 23h1v1h-1zM14 24h4v1h-4z"/><path fill="#e4e4e4" d="M15 14h1v1h-1zM11 16h1v1h-1zM10 17h1v1h-1zM9 20h1v1h-1zM20 21h1v1h-1zM11 22h1v1h-1zM19 22h1v1h-1zM13 23h1v1h-1zM18 23h1v1h-1z"/><path fill="#e6e6e6" d="M14 14h1v1h-1zM16 15h1v1h-1zM18 17h1v1h-1zM10 18h1v1h-1zM20 20h1v1h-1zM10 21h1v1h-1zM12 22h1v1h-1zM14 23h4v1h-4z"/><path fill="#e8e8e8" d="M17 16h1v1h-1zM11 17h1v1h-1zM10 19h1v1h-1zM19 19h1v1h-1zM19 21h1v1h-1zM13 22h1v1h-1z"/><path fill="#eaeaea" d="M13 15h1v1h-1zM15 15h1v1h-1zM12 16h1v1h-1zM11 18h1v1h-1zM18 18h1v1h-1zM10 20h1v1h-1zM11 21h1v1h-1zM14 22h2v1h-2zM18 22h1v1h-1z"/><path fill="#ececec" d="M14 15h1v1h-1zM16 16h1v1h-1zM17 17h1v1h-1zM11 19h1v1h-1zM11 20h1v1h-1zM19 20h1v1h-1zM12 21h1v1h-1zM16 22h2v1h-2z"/><path fill="#eeeeee" d="M12 17h1v1h-1zM12 18h1v1h-1zM12 19h1v1h-1zM12 20h1v1h-1zM13 21h2v1h-2z"/><path fill="#f0f0f0" d="M16 17h1v1h-1zM17 18h1v1h-1zM13 20h1v1h-1zM18 21h1v1h-1z"/><path fill="#f2f2f2" d="M13 16h1v1h-1zM15 16h1v1h-1zM16 18h1v1h-1zM13 19h1v1h-1zM18 19h1v1h-1zM14 20h1v1h-1zM15 21h1v1h-1z"/><path fill="#f4f4f4" d="M14 16h1v1h-1zM15 17h1v1h-1zM13 18h1v1h-1zM15 18h1v1h-1zM14 19h2v1h-2zM15 20h1v1h-1zM18 20h1v1h-1zM16 21h1v1h-1z"/><path fill="#f6f6f6" d="M13 17h1v1h-1zM14 18h1v1h-1zM16 19h2v1h-2zM17 21h1v1h-1z"/><path fill="#f8f8f8" d="M14 17h1v1h-1zM16 20h2v1h-2z"/></g><ellipse cx="347.3" cy="678.8" rx="13.0" ry="12.0" fill="url(#b3)"/><ellipse cx="384.9" cy="725.8" rx="8.0" ry="16.1" fill="url(#b4)"/><ellipse cx="400.6" cy="742.7" rx="11.0" ry="8.0" fill="url(#b5)"/></g></g>
<circle cx="386.2" cy="710.1" r="62.7" fill="none" stroke="#000" stroke-width="1.3"/><polyline points="374.0,648.8 386.2,637.7 398.4,648.8" fill="none" stroke="#000" stroke-width="1.2" stroke-linejoin="miter"/><path d="M448.1,700.9C448.3,700.7 448.8,700.1 449.4,699.9C450.0,699.7 451.0,699.5 451.7,699.7C452.4,699.9 453.3,700.2 453.8,700.9C454.3,701.6 454.4,702.6 454.5,704.1C454.6,705.6 454.6,707.8 454.7,710.1C454.8,712.4 454.9,715.9 455.0,718.1C455.1,720.4 455.4,722.2 455.3,723.6C455.2,725.0 455.0,725.9 454.4,726.6C453.8,727.3 452.6,727.6 451.7,727.7C450.8,727.8 449.9,727.5 449.2,727.1C448.5,726.8 447.9,725.9 447.7,725.6" fill="#fff" stroke="#000" stroke-width="1.2"/><path d="M324.3,700.9C324.1,700.7 323.6,700.1 323.0,699.9C322.4,699.7 321.4,699.5 320.7,699.7C320.0,699.9 319.1,700.2 318.6,700.9C318.1,701.6 318.0,702.6 317.9,704.1C317.8,705.6 317.8,707.8 317.7,710.1C317.6,712.4 317.5,715.9 317.4,718.1C317.3,720.4 317.0,722.2 317.1,723.6C317.2,725.0 317.4,725.9 318.0,726.6C318.6,727.3 319.8,727.6 320.7,727.7C321.6,727.8 322.5,727.5 323.2,727.1C323.9,726.8 324.4,725.9 324.7,725.6" fill="#fff" stroke="#000" stroke-width="1.2"/>
<rect x="463.8" y="438.2" width="17.5" height="135.3" fill="url(#cbar)"/>
<text x="485" y="461.1" font-size="12" fill="#000">2</text>
<text x="485" y="486.4" font-size="12" fill="#000">1</text>
<text x="485" y="511.7" font-size="12" fill="#000">0</text>
<text x="485" y="536.9" font-size="12" fill="#000">-1</text>
<text x="485" y="562.2" font-size="12" fill="#000">-2</text>
<text transform="translate(505.6,448.4) rotate(90) scale(1,1.1)" font-size="17.2" fill="#000">Amplitude <tspan dx="1.5">(</tspan><tspan dx="1.2" font-style="italic" font-size="15.5">µ</tspan><tspan dx="1.2">V</tspan><tspan dx="0.6">)</tspan></text>
<rect x="463.8" y="637.6" width="17.5" height="135.3" fill="url(#cbar)"/>
<text x="485" y="660.4" font-size="12" fill="#000">2</text>
<text x="485" y="685.8" font-size="12" fill="#000">1</text>
<text x="485" y="711.0" font-size="12" fill="#000">0</text>
<text x="485" y="736.3" font-size="12" fill="#000">-1</text>
<text x="485" y="761.6" font-size="12" fill="#000">-2</text>
<text transform="translate(505.6,647.8) rotate(90) scale(1,1.1)" font-size="17.2" fill="#000">Amplitude <tspan dx="1.5">(</tspan><tspan dx="1.2" font-style="italic" font-size="15.5">µ</tspan><tspan dx="1.2">V</tspan><tspan dx="0.6">)</tspan></text>
<text transform="translate(108.5,615.8) scale(1.127,1)" font-size="14" text-anchor="middle" fill="#000">200-250 ms</text>
<text transform="translate(250.5,615.8) scale(1.127,1)" font-size="14" text-anchor="middle" fill="#000">300-500 ms</text>
<text transform="translate(391.3,615.8) scale(1.127,1)" font-size="14" text-anchor="middle" fill="#000">500-700 ms</text>
</svg></body></html>
